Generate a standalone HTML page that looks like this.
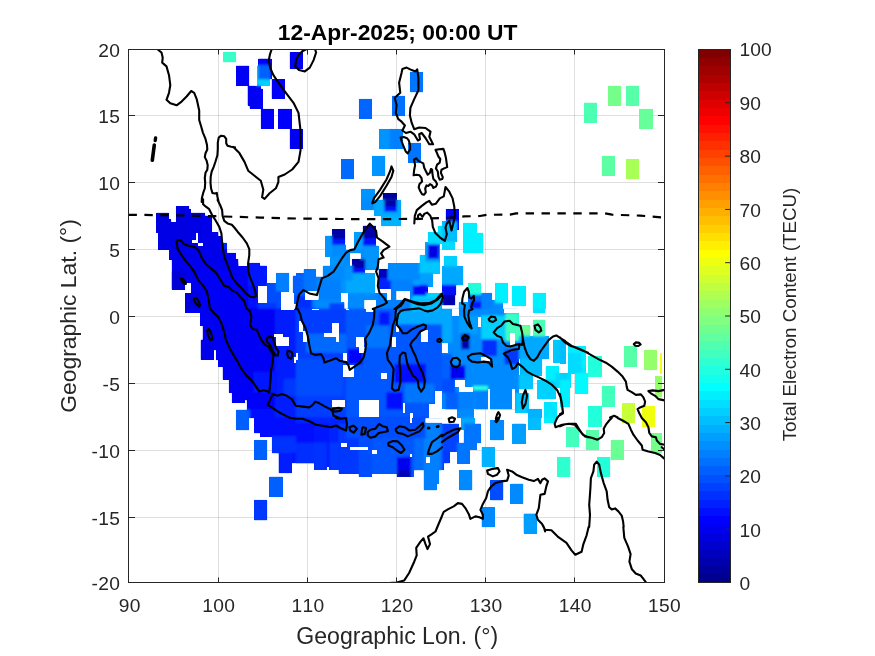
<!DOCTYPE html>
<html lang="en"><head><meta charset="utf-8"><title>12-Apr-2025; 00:00 UT</title>
<style>html,body{margin:0;padding:0;background:#fff;overflow:hidden}body{width:875px;height:656px;position:relative}</style></head>
<body>
<svg width="875" height="656" viewBox="0 0 875 656" style="position:absolute;left:0;top:0">
<defs><clipPath id="ax"><rect x="128.5" y="49.5" width="536" height="533"/></clipPath>
<filter id="bl" x="-5%" y="-5%" width="110%" height="110%"><feGaussianBlur stdDeviation="1.1"/></filter>
<clipPath id="dc"><rect x="223.1" y="52.2" width="13.1" height="10.2"/><rect x="236.2" y="65.6" width="13.1" height="20"/><rect x="258.3" y="58.5" width="13.3" height="20.7"/><rect x="257" y="65.6" width="12.6" height="20"/><rect x="258.3" y="65.6" width="11.3" height="13.7"/><rect x="247.5" y="85.7" width="13.3" height="20"/><rect x="249.5" y="88.7" width="13.1" height="20"/><rect x="271.6" y="79.1" width="13.1" height="19.7"/><rect x="260.8" y="108.8" width="13.1" height="20"/><rect x="278.4" y="108.8" width="13.3" height="20"/><rect x="289.7" y="128.9" width="13.1" height="20"/><rect x="289.7" y="52.2" width="13.1" height="16.9"/><rect x="409.9" y="71.9" width="13.1" height="20.5"/><rect x="358.9" y="98.8" width="13.1" height="20.2"/><rect x="392" y="95.7" width="13.1" height="20.5"/><rect x="379" y="128.9" width="13.1" height="20"/><rect x="389.8" y="128.9" width="13.1" height="20"/><rect x="407.9" y="142.8" width="13.1" height="20"/><rect x="372.2" y="155.8" width="13.1" height="20.2"/><rect x="341.3" y="159.1" width="12.6" height="20.2"/><rect x="361.4" y="188.8" width="13.1" height="21.5"/><rect x="382.7" y="193" width="13.8" height="9.4"/><rect x="382.7" y="201.8" width="13.8" height="9.4"/><rect x="373.9" y="201.8" width="10.1" height="9.4"/><rect x="396.6" y="202.6" width="4.5" height="8.6"/><rect x="608" y="85.7" width="13.3" height="20.2"/><rect x="626.1" y="85.7" width="13.3" height="20.2"/><rect x="583.9" y="102.5" width="13.1" height="20"/><rect x="639.4" y="108.8" width="13.3" height="20.2"/><rect x="601.7" y="155.8" width="13.1" height="20.2"/><rect x="626.1" y="159.1" width="13.3" height="20.2"/><rect x="156.3" y="212.7" width="12.8" height="20.1"/><rect x="158.3" y="219.4" width="13" height="30.1"/><rect x="158.3" y="222.2" width="17.5" height="27.3"/><rect x="175.9" y="206" width="13.3" height="44.3"/><rect x="189.2" y="208.9" width="1.7" height="41.5"/><rect x="190.9" y="212.7" width="14.2" height="37.6"/><rect x="205.1" y="215.6" width="7" height="34.8"/><rect x="212.1" y="232.2" width="6.3" height="34.8"/><rect x="218.4" y="236.4" width="3.7" height="30.6"/><rect x="222.1" y="242.7" width="5" height="24.3"/><rect x="227.1" y="252.8" width="8.8" height="22.6"/><rect x="235.9" y="262.8" width="2.5" height="21"/><rect x="238.4" y="266.1" width="9.2" height="43.1"/><rect x="247.6" y="262.8" width="12.5" height="24"/><rect x="260.1" y="265.6" width="6.7" height="21.1"/><rect x="169.2" y="248.9" width="57.9" height="10.6"/><rect x="171.7" y="258.9" width="66.7" height="30.6"/><rect x="200.1" y="269.8" width="38.4" height="19.8"/><rect x="185.4" y="289" width="73.1" height="20.3"/><rect x="247.6" y="286.1" width="10.5" height="23.1"/><rect x="266.8" y="283.1" width="9.5" height="26.1"/><rect x="258.1" y="302.8" width="23.7" height="6.4"/><rect x="276.3" y="272.8" width="13" height="19"/><rect x="276.3" y="291.1" width="4.7" height="18.1"/><rect x="292.7" y="275.6" width="3.3" height="28.1"/><rect x="171.7" y="271.4" width="13.7" height="18.1"/><rect x="185.4" y="292.3" width="14.7" height="17"/><rect x="185" y="308.7" width="111" height="4.3"/><rect x="200.1" y="312.4" width="95.9" height="13.6"/><rect x="202.6" y="325.4" width="93.4" height="14.8"/><rect x="200.6" y="339.6" width="13.2" height="20.3"/><rect x="213.7" y="339.6" width="82.3" height="10.6"/><rect x="215.9" y="349.6" width="80.1" height="10.6"/><rect x="218.1" y="359.6" width="77.9" height="7.3"/><rect x="222.6" y="366.3" width="73.4" height="13.4"/><rect x="228.8" y="379.1" width="67.2" height="13.6"/><rect x="231.8" y="392.1" width="64.2" height="8.1"/><rect x="231.8" y="399.6" width="13.3" height="3.4"/><rect x="246.8" y="399.6" width="49.2" height="10.3"/><rect x="249.8" y="409.3" width="46.2" height="8.9"/><rect x="235.9" y="409.6" width="13.8" height="8.6"/><rect x="275.1" y="308.7" width="20.9" height="109.6"/><rect x="253.5" y="372.1" width="23.4" height="20.6"/><rect x="283.5" y="378.8" width="12.5" height="17.3"/><rect x="361.1" y="199.7" width="13.3" height="9.8"/><rect x="374.4" y="199.7" width="26.7" height="16.5"/><rect x="381.1" y="215.6" width="20" height="10.6"/><rect x="384.4" y="199.7" width="12.5" height="7.3"/><rect x="384.4" y="206.4" width="12.5" height="5.3"/><rect x="331.9" y="229.4" width="13.3" height="10.1"/><rect x="331.9" y="238.9" width="13.3" height="6.4"/><rect x="325.2" y="235.6" width="6.7" height="21.5"/><rect x="331.9" y="244.8" width="14.2" height="12.3"/><rect x="330.2" y="256.4" width="14.2" height="9.8"/><rect x="362.7" y="225.6" width="13.3" height="13.1"/><rect x="362.7" y="238.1" width="13.3" height="8.1"/><rect x="354.1" y="232.2" width="8.7" height="19.8"/><rect x="362.7" y="245.6" width="15.9" height="24"/><rect x="351.9" y="258.9" width="13.3" height="9.8"/><rect x="351.9" y="268.1" width="13.3" height="5.6"/><rect x="344.4" y="249.8" width="18.4" height="3.6"/><rect x="344.4" y="252.8" width="5.3" height="13.4"/><rect x="360.7" y="252.8" width="2" height="6.8"/><rect x="296" y="273.1" width="7.5" height="17.3"/><rect x="303.5" y="269.4" width="12.5" height="21.8"/><rect x="322.7" y="265.6" width="23.4" height="14.8"/><rect x="316" y="276.5" width="6.7" height="14.8"/><rect x="318.5" y="279.8" width="22.5" height="20.6"/><rect x="296" y="289.8" width="9.2" height="6.4"/><rect x="296" y="295.6" width="15.9" height="13.6"/><rect x="311.9" y="299.5" width="6.7" height="9.8"/><rect x="314.4" y="299.8" width="30" height="9.4"/><rect x="329.4" y="303.2" width="15" height="6.1"/><rect x="346.1" y="273.1" width="28.4" height="20.6"/><rect x="347.7" y="293.1" width="16.7" height="16.1"/><rect x="364.4" y="293.1" width="11.7" height="7.3"/><rect x="376.1" y="293.1" width="10.8" height="16.1"/><rect x="378.6" y="268.9" width="12.5" height="9.8"/><rect x="378.6" y="278.1" width="12.5" height="10.6"/><rect x="387.8" y="263.1" width="31.7" height="17.3"/><rect x="391.1" y="279.8" width="21.7" height="11.4"/><rect x="419.5" y="254.8" width="20" height="19"/><rect x="425.3" y="242.2" width="14.2" height="19.8"/><rect x="427.8" y="244.8" width="10.8" height="13.9"/><rect x="427.8" y="232.2" width="14.2" height="11.4"/><rect x="437.8" y="225.6" width="4.2" height="8.1"/><rect x="419.5" y="273.1" width="13.3" height="13.9"/><rect x="412.8" y="284.8" width="15" height="11.4"/><rect x="411.1" y="295.6" width="15" height="8.1"/><rect x="386.9" y="299.8" width="24.2" height="9.4"/><rect x="391.1" y="290.6" width="5" height="18.6"/><rect x="410.3" y="290.6" width="2.5" height="9.8"/><rect x="426.1" y="293.1" width="15.9" height="7.3"/><rect x="411.1" y="303.2" width="30.9" height="6.1"/><rect x="344.4" y="265.6" width="8.3" height="14.8"/><rect x="341.1" y="279.8" width="5" height="13.9"/><rect x="412.8" y="279.8" width="6.7" height="5.9"/><rect x="426.1" y="299.8" width="8.3" height="4.3"/><rect x="445.7" y="208.9" width="13" height="20.6"/><rect x="442" y="221.4" width="15" height="20.6"/><rect x="442" y="241.4" width="12.5" height="8.1"/><rect x="463.4" y="222.7" width="13.3" height="30.1"/><rect x="476.7" y="232.7" width="6.7" height="20.1"/><rect x="443.7" y="256.1" width="13" height="10.9"/><rect x="442" y="266.4" width="21.4" height="19"/><rect x="442" y="284.8" width="14.2" height="10.6"/><rect x="442" y="294.8" width="13.3" height="10.6"/><rect x="467.9" y="282.8" width="13.3" height="12.6"/><rect x="481.2" y="292.8" width="10.8" height="16.5"/><rect x="467.9" y="294.8" width="13.3" height="14.4"/><rect x="470.4" y="301.5" width="10.8" height="7.8"/><rect x="458.7" y="302.3" width="10" height="6.9"/><rect x="492.1" y="299.8" width="10.8" height="9.4"/><rect x="495.1" y="282.8" width="12.8" height="20.1"/><rect x="512.4" y="286.1" width="13.3" height="20.1"/><rect x="532.6" y="292.8" width="13.3" height="16.5"/><rect x="296" y="308.7" width="146" height="109.6"/><rect x="296" y="308.7" width="50.1" height="109.6"/><rect x="306" y="333.7" width="40" height="19"/><rect x="347.7" y="348.7" width="15" height="15.6"/><rect x="379.4" y="312" width="10" height="13.9"/><rect x="394.4" y="363.8" width="31.7" height="19"/><rect x="396.1" y="310.4" width="45.9" height="13.9"/><rect x="386.1" y="392.1" width="16.7" height="17.3"/><rect x="366.1" y="325.4" width="23.4" height="22.3"/><rect x="404.5" y="383.8" width="30" height="19"/><rect x="296" y="358.8" width="46.7" height="37.3"/><rect x="442" y="308.7" width="76.8" height="100.7"/><rect x="442" y="308.7" width="10" height="34"/><rect x="442" y="353.8" width="10" height="25.6"/><rect x="458.7" y="315.4" width="19.2" height="19"/><rect x="481.2" y="315.4" width="24.2" height="24"/><rect x="505.4" y="312.9" width="13.3" height="13.1"/><rect x="505.4" y="325.4" width="25" height="15.6"/><rect x="522.1" y="326.2" width="8.3" height="8.1"/><rect x="532.9" y="319.5" width="12.5" height="17.3"/><rect x="532.9" y="308.7" width="12.5" height="4.3"/><rect x="518.8" y="336.2" width="30" height="23.1"/><rect x="520.4" y="358.8" width="21.7" height="17.3"/><rect x="518.8" y="375.4" width="14.2" height="13.9"/><rect x="553" y="339.6" width="12.5" height="23.1"/><rect x="568" y="346.2" width="17.5" height="26.5"/><rect x="545.5" y="366.3" width="13.3" height="14.8"/><rect x="555.5" y="372.9" width="15" height="14.8"/><rect x="575.5" y="372.9" width="12.5" height="19.8"/><rect x="537.1" y="380.4" width="18.4" height="19"/><rect x="543.8" y="402.1" width="13.3" height="16.1"/><rect x="515.1" y="393" width="13.7" height="19.8"/><rect x="527.9" y="408.8" width="14.2" height="9.4"/><rect x="445.3" y="392.1" width="13.3" height="17.3"/><rect x="458.7" y="392.1" width="15" height="22.3"/><rect x="475.4" y="389.6" width="12.5" height="19.8"/><rect x="490.4" y="375.4" width="21.7" height="34"/><rect x="457" y="408.8" width="16.7" height="9.4"/><rect x="442" y="378.8" width="13.3" height="13.9"/><rect x="461.2" y="333.7" width="8.3" height="15.6"/><rect x="482" y="339.6" width="15" height="16.5"/><rect x="450.3" y="365.4" width="15" height="13.9"/><rect x="504.6" y="349.6" width="14.2" height="14.8"/><rect x="472.9" y="385.8" width="15" height="4.4"/><rect x="254" y="417.7" width="42" height="15.6"/><rect x="260.1" y="432.7" width="35.9" height="3.9"/><rect x="271.8" y="436.1" width="24.2" height="17.3"/><rect x="278.5" y="452.7" width="13.3" height="20.6"/><rect x="291.8" y="452.7" width="4.2" height="10.6"/><rect x="235.9" y="417.7" width="13.3" height="12.6"/><rect x="254" y="439.9" width="13.3" height="20.1"/><rect x="269.3" y="476.6" width="13.7" height="20.5"/><rect x="254" y="499.8" width="13.3" height="20.6"/><rect x="296" y="417.7" width="18" height="45.7"/><rect x="314" y="417.7" width="12.8" height="52.3"/><rect x="326.9" y="417.7" width="2.5" height="49.3"/><rect x="329.4" y="417.7" width="9.2" height="52.3"/><rect x="338.5" y="417.7" width="20" height="56"/><rect x="358.6" y="417.7" width="13.3" height="59.3"/><rect x="371.9" y="417.7" width="24.7" height="56"/><rect x="396.6" y="417.7" width="17.5" height="59"/><rect x="414.1" y="417.7" width="9.5" height="52.7"/><rect x="423.6" y="422.7" width="13.3" height="67.7"/><rect x="437" y="422.7" width="2.2" height="61"/><rect x="439.2" y="422.7" width="2.8" height="47.7"/><rect x="396.9" y="456.9" width="14.2" height="13.9"/><rect x="397.4" y="470.3" width="13.7" height="6.4"/><rect x="296" y="417.7" width="129.3" height="5.6"/><rect x="346.1" y="417.7" width="79.3" height="20.6"/><rect x="296" y="442.7" width="18" height="20.6"/><rect x="314" y="442.7" width="12.8" height="27.3"/><rect x="329.4" y="442.7" width="9.2" height="27.3"/><rect x="442" y="423.5" width="16.7" height="28.1"/><rect x="442" y="451.1" width="7.5" height="12.3"/><rect x="442" y="462.8" width="1.7" height="7.3"/><rect x="461.2" y="417.7" width="13.3" height="12.3"/><rect x="463.7" y="423.5" width="17.5" height="19.8"/><rect x="457" y="442.7" width="20" height="7.3"/><rect x="457" y="449.4" width="13" height="14.3"/><rect x="490.4" y="420.2" width="13.3" height="20.1"/><rect x="512.4" y="423.5" width="13.3" height="20.1"/><rect x="528.3" y="417.7" width="13" height="12.3"/><rect x="543.8" y="417.7" width="11.7" height="5.6"/><rect x="566" y="426.9" width="13.2" height="20.1"/><rect x="585.8" y="430.2" width="2.2" height="19.8"/><rect x="557.1" y="456.9" width="13.3" height="20.1"/><rect x="481.5" y="446.9" width="13.3" height="20.1"/><rect x="459.2" y="469.9" width="13.2" height="20.5"/><rect x="490.4" y="480.3" width="13" height="20.1"/><rect x="510.4" y="483.6" width="13" height="20.1"/><rect x="481.5" y="507" width="13.3" height="20.3"/><rect x="523.8" y="513.6" width="13.3" height="13.6"/><rect x="560" y="339.6" width="5.8" height="24"/><rect x="568.3" y="346.2" width="17.5" height="20.6"/><rect x="568.3" y="352.9" width="13" height="20.6"/><rect x="588.4" y="356.3" width="13.3" height="20.6"/><rect x="560" y="372.9" width="7.5" height="9.8"/><rect x="560" y="379.6" width="10" height="27.3"/><rect x="575.4" y="372.9" width="13" height="20.6"/><rect x="601.7" y="386.3" width="13.3" height="20.6"/><rect x="588.4" y="406.3" width="13.3" height="11.9"/><rect x="624.2" y="346.2" width="13" height="20.6"/><rect x="643.9" y="349.6" width="13.2" height="20.6"/><rect x="659.6" y="352.9" width="2.5" height="20.6"/><rect x="655.1" y="376.3" width="7" height="20.6"/><rect x="622.1" y="403" width="13" height="15.3"/><rect x="641.8" y="406.3" width="13.3" height="11.9"/><rect x="588.4" y="417.7" width="13.3" height="9.3"/><rect x="622.1" y="417.7" width="13" height="5.6"/><rect x="641.8" y="417.7" width="13.3" height="8.9"/><rect x="566.2" y="426.9" width="13" height="20.1"/><rect x="586.2" y="429.7" width="13" height="20.6"/><rect x="610.6" y="439.9" width="13.3" height="20.1"/><rect x="650.9" y="433.2" width="11.2" height="20.1"/><rect x="560" y="456.9" width="10.3" height="20.1"/><rect x="597" y="456.9" width="13.3" height="20.1"/><rect x="523.5" y="513.6" width="13.3" height="20.2"/><rect x="410.7" y="298.4" width="30" height="12.8"/></clipPath>
</defs>
<rect width="100%" height="100%" fill="#fff"/>
<path d="M218.5 49.5 V582.5 M307.5 49.5 V582.5 M396.5 49.5 V582.5 M485.5 49.5 V582.5 M574.5 49.5 V582.5 M128.5 517.5 H664.5 M128.5 450.5 H664.5 M128.5 383.5 H664.5 M128.5 316.5 H664.5 M128.5 249.5 H664.5 M128.5 182.5 H664.5 M128.5 115.5 H664.5" stroke="#262626" stroke-opacity="0.15" stroke-width="1" fill="none"/>
<g clip-path="url(#ax)">
<g shape-rendering="crispEdges"><rect x="223.1" y="52.2" width="13.1" height="10.2" fill="#38ffc7"/><rect x="236.2" y="65.6" width="13.1" height="20" fill="#0000f5"/><rect x="258.3" y="58.5" width="13.3" height="20.7" fill="#0000ff"/><rect x="257" y="65.6" width="12.6" height="20" fill="#00d1ff"/><rect x="258.3" y="65.6" width="11.3" height="13.7" fill="#0061ff"/><rect x="247.5" y="85.7" width="13.3" height="20" fill="#0000f5"/><rect x="249.5" y="88.7" width="13.1" height="20" fill="#0000f5"/><rect x="271.6" y="79.1" width="13.1" height="19.7" fill="#0000fa"/><rect x="260.8" y="108.8" width="13.1" height="20" fill="#0000fa"/><rect x="278.4" y="108.8" width="13.3" height="20" fill="#0000fa"/><rect x="289.7" y="128.9" width="13.1" height="20" fill="#0000f5"/><rect x="289.7" y="52.2" width="13.1" height="16.9" fill="#0000f5"/><rect x="409.9" y="71.9" width="13.1" height="20.5" fill="#0075ff"/><rect x="358.9" y="98.8" width="13.1" height="20.2" fill="#0066ff"/><rect x="392" y="95.7" width="13.1" height="20.5" fill="#0070ff"/><rect x="379" y="128.9" width="13.1" height="20" fill="#0094ff"/><rect x="389.8" y="128.9" width="13.1" height="20" fill="#0080ff"/><rect x="407.9" y="142.8" width="13.1" height="20" fill="#0075ff"/><rect x="372.2" y="155.8" width="13.1" height="20.2" fill="#0094ff"/><rect x="341.3" y="159.1" width="12.6" height="20.2" fill="#006bff"/><rect x="361.4" y="188.8" width="13.1" height="21.5" fill="#0094ff"/><rect x="382.7" y="193" width="13.8" height="9.4" fill="#00009e"/><rect x="382.7" y="201.8" width="13.8" height="9.4" fill="#0000fa"/><rect x="373.9" y="201.8" width="10.1" height="9.4" fill="#00d1ff"/><rect x="396.6" y="202.6" width="4.5" height="8.6" fill="#0094ff"/><rect x="608" y="85.7" width="13.3" height="20.2" fill="#75ff8a"/><rect x="626.1" y="85.7" width="13.3" height="20.2" fill="#57ffa8"/><rect x="583.9" y="102.5" width="13.1" height="20" fill="#4dffb2"/><rect x="639.4" y="108.8" width="13.3" height="20.2" fill="#66ff99"/><rect x="601.7" y="155.8" width="13.1" height="20.2" fill="#5cffa3"/><rect x="626.1" y="159.1" width="13.3" height="20.2" fill="#a8ff57"/><rect x="156.3" y="212.7" width="12.8" height="20.1" fill="#0000e0"/><rect x="158.3" y="219.4" width="13" height="30.1" fill="#0000e3"/><rect x="158.3" y="222.2" width="17.5" height="27.3" fill="#0000e6"/><rect x="175.9" y="206" width="13.3" height="44.3" fill="#0000e3"/><rect x="189.2" y="208.9" width="1.7" height="41.5" fill="#0000e6"/><rect x="190.9" y="212.7" width="14.2" height="37.6" fill="#0000e6"/><rect x="205.1" y="215.6" width="7" height="34.8" fill="#0000e9"/><rect x="212.1" y="232.2" width="6.3" height="34.8" fill="#0000eb"/><rect x="218.4" y="236.4" width="3.7" height="30.6" fill="#0000eb"/><rect x="222.1" y="242.7" width="5" height="24.3" fill="#0024ff"/><rect x="227.1" y="252.8" width="8.8" height="22.6" fill="#0000f5"/><rect x="235.9" y="262.8" width="2.5" height="21" fill="#0000f5"/><rect x="238.4" y="266.1" width="9.2" height="43.1" fill="#0000f5"/><rect x="247.6" y="262.8" width="12.5" height="24" fill="#0019ff"/><rect x="260.1" y="265.6" width="6.7" height="21.1" fill="#0019ff"/><rect x="169.2" y="248.9" width="57.9" height="10.6" fill="#0000eb"/><rect x="171.7" y="258.9" width="66.7" height="30.6" fill="#0000ed"/><rect x="200.1" y="269.8" width="38.4" height="19.8" fill="#0000f4"/><rect x="185.4" y="289" width="73.1" height="20.3" fill="#0000f4"/><rect x="247.6" y="286.1" width="10.5" height="23.1" fill="#000aff"/><rect x="266.8" y="283.1" width="9.5" height="26.1" fill="#004dff"/><rect x="258.1" y="302.8" width="23.7" height="6.4" fill="#0038ff"/><rect x="276.3" y="272.8" width="13" height="19" fill="#0080ff"/><rect x="276.3" y="291.1" width="4.7" height="18.1" fill="#004dff"/><rect x="292.7" y="275.6" width="3.3" height="28.1" fill="#0061ff"/><rect x="171.7" y="271.4" width="13.7" height="18.1" fill="#0000d6"/><rect x="185.4" y="292.3" width="14.7" height="17" fill="#0000db"/><rect x="185" y="308.7" width="111" height="4.3" fill="#0000f5"/><rect x="200.1" y="312.4" width="95.9" height="13.6" fill="#0000f5"/><rect x="202.6" y="325.4" width="93.4" height="14.8" fill="#0000f5"/><rect x="200.6" y="339.6" width="13.2" height="20.3" fill="#0000eb"/><rect x="213.7" y="339.6" width="82.3" height="10.6" fill="#0000f5"/><rect x="215.9" y="349.6" width="80.1" height="10.6" fill="#0000f5"/><rect x="218.1" y="359.6" width="77.9" height="7.3" fill="#0000f5"/><rect x="222.6" y="366.3" width="73.4" height="13.4" fill="#0000f5"/><rect x="228.8" y="379.1" width="67.2" height="13.6" fill="#0000f8"/><rect x="231.8" y="392.1" width="64.2" height="8.1" fill="#0000f8"/><rect x="231.8" y="399.6" width="13.3" height="3.4" fill="#0000f8"/><rect x="246.8" y="399.6" width="49.2" height="10.3" fill="#0003ff"/><rect x="249.8" y="409.3" width="46.2" height="8.9" fill="#000aff"/><rect x="235.9" y="409.6" width="13.8" height="8.6" fill="#0061ff"/><rect x="275.1" y="308.7" width="20.9" height="109.6" fill="#001fff"/><rect x="253.5" y="372.1" width="23.4" height="20.6" fill="#0014ff"/><rect x="283.5" y="378.8" width="12.5" height="17.3" fill="#0038ff"/><rect x="361.1" y="199.7" width="13.3" height="9.8" fill="#008aff"/><rect x="374.4" y="199.7" width="26.7" height="16.5" fill="#00a8ff"/><rect x="381.1" y="215.6" width="20" height="10.6" fill="#00b2ff"/><rect x="384.4" y="199.7" width="12.5" height="7.3" fill="#0000a8"/><rect x="384.4" y="206.4" width="12.5" height="5.3" fill="#000fff"/><rect x="331.9" y="229.4" width="13.3" height="10.1" fill="#0000a8"/><rect x="331.9" y="238.9" width="13.3" height="6.4" fill="#0019ff"/><rect x="325.2" y="235.6" width="6.7" height="21.5" fill="#0094ff"/><rect x="331.9" y="244.8" width="14.2" height="12.3" fill="#008aff"/><rect x="330.2" y="256.4" width="14.2" height="9.8" fill="#0094ff"/><rect x="362.7" y="225.6" width="13.3" height="13.1" fill="#0000a8"/><rect x="362.7" y="238.1" width="13.3" height="8.1" fill="#000fff"/><rect x="354.1" y="232.2" width="8.7" height="19.8" fill="#009eff"/><rect x="362.7" y="245.6" width="15.9" height="24" fill="#0094ff"/><rect x="351.9" y="258.9" width="13.3" height="9.8" fill="#0000a8"/><rect x="351.9" y="268.1" width="13.3" height="5.6" fill="#000fff"/><rect x="344.4" y="249.8" width="18.4" height="3.6" fill="#008aff"/><rect x="344.4" y="252.8" width="5.3" height="13.4" fill="#008aff"/><rect x="360.7" y="252.8" width="2" height="6.8" fill="#008aff"/><rect x="296" y="273.1" width="7.5" height="17.3" fill="#0061ff"/><rect x="303.5" y="269.4" width="12.5" height="21.8" fill="#0075ff"/><rect x="322.7" y="265.6" width="23.4" height="14.8" fill="#008aff"/><rect x="316" y="276.5" width="6.7" height="14.8" fill="#0080ff"/><rect x="318.5" y="279.8" width="22.5" height="20.6" fill="#0080ff"/><rect x="296" y="289.8" width="9.2" height="6.4" fill="#0061ff"/><rect x="296" y="295.6" width="15.9" height="13.6" fill="#002eff"/><rect x="311.9" y="299.5" width="6.7" height="9.8" fill="#0075ff"/><rect x="314.4" y="299.8" width="30" height="9.4" fill="#008aff"/><rect x="329.4" y="303.2" width="15" height="6.1" fill="#0042ff"/><rect x="346.1" y="273.1" width="28.4" height="20.6" fill="#00a8ff"/><rect x="347.7" y="293.1" width="16.7" height="16.1" fill="#008aff"/><rect x="364.4" y="293.1" width="11.7" height="7.3" fill="#008aff"/><rect x="376.1" y="293.1" width="10.8" height="16.1" fill="#0080ff"/><rect x="378.6" y="268.9" width="12.5" height="9.8" fill="#0000bd"/><rect x="378.6" y="278.1" width="12.5" height="10.6" fill="#0024ff"/><rect x="387.8" y="263.1" width="31.7" height="17.3" fill="#008aff"/><rect x="391.1" y="279.8" width="21.7" height="11.4" fill="#0080ff"/><rect x="419.5" y="254.8" width="20" height="19" fill="#00c7ff"/><rect x="425.3" y="242.2" width="14.2" height="19.8" fill="#009eff"/><rect x="427.8" y="244.8" width="10.8" height="13.9" fill="#0000e6"/><rect x="427.8" y="232.2" width="14.2" height="11.4" fill="#00dbff"/><rect x="437.8" y="225.6" width="4.2" height="8.1" fill="#00e5ff"/><rect x="419.5" y="273.1" width="13.3" height="13.9" fill="#009eff"/><rect x="412.8" y="284.8" width="15" height="11.4" fill="#0000fa"/><rect x="411.1" y="295.6" width="15" height="8.1" fill="#00d1ff"/><rect x="386.9" y="299.8" width="24.2" height="9.4" fill="#0080ff"/><rect x="391.1" y="290.6" width="5" height="18.6" fill="#0080ff"/><rect x="410.3" y="290.6" width="2.5" height="9.8" fill="#0080ff"/><rect x="426.1" y="293.1" width="15.9" height="7.3" fill="#00d1ff"/><rect x="411.1" y="303.2" width="30.9" height="6.1" fill="#00b2ff"/><rect x="344.4" y="265.6" width="8.3" height="14.8" fill="#0094ff"/><rect x="341.1" y="279.8" width="5" height="13.9" fill="#0094ff"/><rect x="412.8" y="279.8" width="6.7" height="5.9" fill="#009eff"/><rect x="426.1" y="299.8" width="8.3" height="4.3" fill="#00d1ff"/><rect x="445.7" y="208.9" width="13" height="20.6" fill="#0000fa"/><rect x="442" y="221.4" width="15" height="20.6" fill="#00bdff"/><rect x="442" y="241.4" width="12.5" height="8.1" fill="#00dbff"/><rect x="463.4" y="222.7" width="13.3" height="30.1" fill="#00f0ff"/><rect x="476.7" y="232.7" width="6.7" height="20.1" fill="#00f0ff"/><rect x="443.7" y="256.1" width="13" height="10.9" fill="#00d1ff"/><rect x="442" y="266.4" width="21.4" height="19" fill="#00a8ff"/><rect x="442" y="284.8" width="14.2" height="10.6" fill="#000fff"/><rect x="442" y="294.8" width="13.3" height="10.6" fill="#0000b2"/><rect x="467.9" y="282.8" width="13.3" height="12.6" fill="#24ffdb"/><rect x="481.2" y="292.8" width="10.8" height="16.5" fill="#0080ff"/><rect x="467.9" y="294.8" width="13.3" height="14.4" fill="#006bff"/><rect x="470.4" y="301.5" width="10.8" height="7.8" fill="#0019ff"/><rect x="458.7" y="302.3" width="10" height="6.9" fill="#009eff"/><rect x="492.1" y="299.8" width="10.8" height="9.4" fill="#008aff"/><rect x="495.1" y="282.8" width="12.8" height="20.1" fill="#00f0ff"/><rect x="512.4" y="286.1" width="13.3" height="20.1" fill="#00f0ff"/><rect x="532.6" y="292.8" width="13.3" height="16.5" fill="#00f0ff"/><rect x="296" y="308.7" width="146" height="109.6" fill="#0057ff"/><rect x="296" y="308.7" width="50.1" height="109.6" fill="#003dff"/><rect x="306" y="333.7" width="40" height="19" fill="#006bff"/><rect x="347.7" y="348.7" width="15" height="15.6" fill="#0005ff"/><rect x="379.4" y="312" width="10" height="13.9" fill="#0019ff"/><rect x="394.4" y="363.8" width="31.7" height="19" fill="#000fff"/><rect x="396.1" y="310.4" width="45.9" height="13.9" fill="#00a8ff"/><rect x="386.1" y="392.1" width="16.7" height="17.3" fill="#000fff"/><rect x="366.1" y="325.4" width="23.4" height="22.3" fill="#0075ff"/><rect x="404.5" y="383.8" width="30" height="19" fill="#0075ff"/><rect x="296" y="358.8" width="46.7" height="37.3" fill="#004dff"/><rect x="442" y="308.7" width="76.8" height="100.7" fill="#008aff"/><rect x="442" y="308.7" width="10" height="34" fill="#00a8ff"/><rect x="442" y="353.8" width="10" height="25.6" fill="#0061ff"/><rect x="458.7" y="315.4" width="19.2" height="19" fill="#009eff"/><rect x="481.2" y="315.4" width="24.2" height="24" fill="#00d1ff"/><rect x="505.4" y="312.9" width="13.3" height="13.1" fill="#38ffc7"/><rect x="505.4" y="325.4" width="25" height="15.6" fill="#42ffbd"/><rect x="522.1" y="326.2" width="8.3" height="8.1" fill="#70ff8f"/><rect x="532.9" y="319.5" width="12.5" height="17.3" fill="#4dffb2"/><rect x="532.9" y="308.7" width="12.5" height="4.3" fill="#00e5ff"/><rect x="518.8" y="336.2" width="30" height="23.1" fill="#00a8ff"/><rect x="520.4" y="358.8" width="21.7" height="17.3" fill="#00bdff"/><rect x="518.8" y="375.4" width="14.2" height="13.9" fill="#00c7ff"/><rect x="553" y="339.6" width="12.5" height="23.1" fill="#00c7ff"/><rect x="568" y="346.2" width="17.5" height="26.5" fill="#00e5ff"/><rect x="545.5" y="366.3" width="13.3" height="14.8" fill="#00f0ff"/><rect x="555.5" y="372.9" width="15" height="14.8" fill="#00dbff"/><rect x="575.5" y="372.9" width="12.5" height="19.8" fill="#00faff"/><rect x="537.1" y="380.4" width="18.4" height="19" fill="#00d1ff"/><rect x="543.8" y="402.1" width="13.3" height="16.1" fill="#00e5ff"/><rect x="515.1" y="393" width="13.7" height="19.8" fill="#00c7ff"/><rect x="527.9" y="408.8" width="14.2" height="9.4" fill="#00b2ff"/><rect x="445.3" y="392.1" width="13.3" height="17.3" fill="#0061ff"/><rect x="458.7" y="392.1" width="15" height="22.3" fill="#0080ff"/><rect x="475.4" y="389.6" width="12.5" height="19.8" fill="#0080ff"/><rect x="490.4" y="375.4" width="21.7" height="34" fill="#008aff"/><rect x="457" y="408.8" width="16.7" height="9.4" fill="#008aff"/><rect x="442" y="378.8" width="13.3" height="13.9" fill="#004dff"/><rect x="461.2" y="333.7" width="8.3" height="15.6" fill="#0000b2"/><rect x="482" y="339.6" width="15" height="16.5" fill="#002eff"/><rect x="450.3" y="365.4" width="15" height="13.9" fill="#0000f0"/><rect x="504.6" y="349.6" width="14.2" height="14.8" fill="#0038ff"/><rect x="472.9" y="385.8" width="15" height="4.4" fill="#24ffdb"/><rect x="254" y="417.7" width="42" height="15.6" fill="#000aff"/><rect x="260.1" y="432.7" width="35.9" height="3.9" fill="#000aff"/><rect x="271.8" y="436.1" width="24.2" height="17.3" fill="#0033ff"/><rect x="278.5" y="452.7" width="13.3" height="20.6" fill="#001fff"/><rect x="291.8" y="452.7" width="4.2" height="10.6" fill="#0019ff"/><rect x="235.9" y="417.7" width="13.3" height="12.6" fill="#0061ff"/><rect x="254" y="439.9" width="13.3" height="20.1" fill="#0061ff"/><rect x="269.3" y="476.6" width="13.7" height="20.5" fill="#0061ff"/><rect x="254" y="499.8" width="13.3" height="20.6" fill="#0038ff"/><rect x="296" y="417.7" width="18" height="45.7" fill="#000fff"/><rect x="314" y="417.7" width="12.8" height="52.3" fill="#0019ff"/><rect x="326.9" y="417.7" width="2.5" height="49.3" fill="#0019ff"/><rect x="329.4" y="417.7" width="9.2" height="52.3" fill="#0024ff"/><rect x="338.5" y="417.7" width="20" height="56" fill="#0038ff"/><rect x="358.6" y="417.7" width="13.3" height="59.3" fill="#004dff"/><rect x="371.9" y="417.7" width="24.7" height="56" fill="#0057ff"/><rect x="396.6" y="417.7" width="17.5" height="59" fill="#0057ff"/><rect x="414.1" y="417.7" width="9.5" height="52.7" fill="#006bff"/><rect x="423.6" y="422.7" width="13.3" height="67.7" fill="#0080ff"/><rect x="437" y="422.7" width="2.2" height="61" fill="#0080ff"/><rect x="439.2" y="422.7" width="2.8" height="47.7" fill="#0075ff"/><rect x="396.9" y="456.9" width="14.2" height="13.9" fill="#0000f0"/><rect x="397.4" y="470.3" width="13.7" height="6.4" fill="#0000b2"/><rect x="296" y="417.7" width="129.3" height="5.6" fill="#0024ff"/><rect x="346.1" y="417.7" width="79.3" height="20.6" fill="#004dff"/><rect x="296" y="442.7" width="18" height="20.6" fill="#002eff"/><rect x="314" y="442.7" width="12.8" height="27.3" fill="#0033ff"/><rect x="329.4" y="442.7" width="9.2" height="27.3" fill="#0038ff"/><rect x="442" y="423.5" width="16.7" height="28.1" fill="#0042ff"/><rect x="442" y="451.1" width="7.5" height="12.3" fill="#0038ff"/><rect x="442" y="462.8" width="1.7" height="7.3" fill="#0038ff"/><rect x="461.2" y="417.7" width="13.3" height="12.3" fill="#00a8ff"/><rect x="463.7" y="423.5" width="17.5" height="19.8" fill="#0075ff"/><rect x="457" y="442.7" width="20" height="7.3" fill="#0075ff"/><rect x="457" y="449.4" width="13" height="14.3" fill="#0075ff"/><rect x="490.4" y="420.2" width="13.3" height="20.1" fill="#008aff"/><rect x="512.4" y="423.5" width="13.3" height="20.1" fill="#009eff"/><rect x="528.3" y="417.7" width="13" height="12.3" fill="#00bdff"/><rect x="543.8" y="417.7" width="11.7" height="5.6" fill="#00f0ff"/><rect x="566" y="426.9" width="13.2" height="20.1" fill="#4dffb2"/><rect x="585.8" y="430.2" width="2.2" height="19.8" fill="#4dffb2"/><rect x="557.1" y="456.9" width="13.3" height="20.1" fill="#2effd1"/><rect x="481.5" y="446.9" width="13.3" height="20.1" fill="#00b2ff"/><rect x="459.2" y="469.9" width="13.2" height="20.5" fill="#008aff"/><rect x="490.4" y="480.3" width="13" height="20.1" fill="#004dff"/><rect x="510.4" y="483.6" width="13" height="20.1" fill="#008aff"/><rect x="481.5" y="507" width="13.3" height="20.3" fill="#008aff"/><rect x="523.8" y="513.6" width="13.3" height="13.6" fill="#008aff"/><rect x="560" y="339.6" width="5.8" height="24" fill="#00bdff"/><rect x="568.3" y="346.2" width="17.5" height="20.6" fill="#00f0ff"/><rect x="568.3" y="352.9" width="13" height="20.6" fill="#00dbff"/><rect x="588.4" y="356.3" width="13.3" height="20.6" fill="#24ffdb"/><rect x="560" y="372.9" width="7.5" height="9.8" fill="#00d1ff"/><rect x="560" y="379.6" width="10" height="27.3" fill="#00f0ff"/><rect x="575.4" y="372.9" width="13" height="20.6" fill="#00faff"/><rect x="601.7" y="386.3" width="13.3" height="20.6" fill="#42ffbd"/><rect x="588.4" y="406.3" width="13.3" height="11.9" fill="#24ffdb"/><rect x="624.2" y="346.2" width="13" height="20.6" fill="#57ffa8"/><rect x="643.9" y="349.6" width="13.2" height="20.6" fill="#94ff6b"/><rect x="659.6" y="352.9" width="2.5" height="20.6" fill="#f0ff0f"/><rect x="655.1" y="376.3" width="7" height="20.6" fill="#94ff6b"/><rect x="622.1" y="403" width="13" height="15.3" fill="#c7ff38"/><rect x="641.8" y="406.3" width="13.3" height="11.9" fill="#f0ff0f"/><rect x="588.4" y="417.7" width="13.3" height="9.3" fill="#24ffdb"/><rect x="622.1" y="417.7" width="13" height="5.6" fill="#c7ff38"/><rect x="641.8" y="417.7" width="13.3" height="8.9" fill="#f0ff0f"/><rect x="566.2" y="426.9" width="13" height="20.1" fill="#42ffbd"/><rect x="586.2" y="429.7" width="13" height="20.6" fill="#57ffa8"/><rect x="610.6" y="439.9" width="13.3" height="20.1" fill="#6bff94"/><rect x="650.9" y="433.2" width="11.2" height="20.1" fill="#75ff8a"/><rect x="560" y="456.9" width="10.3" height="20.1" fill="#2effd1"/><rect x="597" y="456.9" width="13.3" height="20.1" fill="#24ffdb"/><rect x="523.5" y="513.6" width="13.3" height="20.2" fill="#009eff"/><rect x="410.7" y="298.4" width="30" height="12.8" fill="#00bdff"/></g>
<g clip-path="url(#dc)"><g filter="url(#bl)"><rect x="223.1" y="52.2" width="13.1" height="10.2" fill="#38ffc7"/><rect x="236.2" y="65.6" width="13.1" height="20" fill="#0000f5"/><rect x="258.3" y="58.5" width="13.3" height="20.7" fill="#0000ff"/><rect x="257" y="65.6" width="12.6" height="20" fill="#00d1ff"/><rect x="258.3" y="65.6" width="11.3" height="13.7" fill="#0061ff"/><rect x="247.5" y="85.7" width="13.3" height="20" fill="#0000f5"/><rect x="249.5" y="88.7" width="13.1" height="20" fill="#0000f5"/><rect x="271.6" y="79.1" width="13.1" height="19.7" fill="#0000fa"/><rect x="260.8" y="108.8" width="13.1" height="20" fill="#0000fa"/><rect x="278.4" y="108.8" width="13.3" height="20" fill="#0000fa"/><rect x="289.7" y="128.9" width="13.1" height="20" fill="#0000f5"/><rect x="289.7" y="52.2" width="13.1" height="16.9" fill="#0000f5"/><rect x="409.9" y="71.9" width="13.1" height="20.5" fill="#0075ff"/><rect x="358.9" y="98.8" width="13.1" height="20.2" fill="#0066ff"/><rect x="392" y="95.7" width="13.1" height="20.5" fill="#0070ff"/><rect x="379" y="128.9" width="13.1" height="20" fill="#0094ff"/><rect x="389.8" y="128.9" width="13.1" height="20" fill="#0080ff"/><rect x="407.9" y="142.8" width="13.1" height="20" fill="#0075ff"/><rect x="372.2" y="155.8" width="13.1" height="20.2" fill="#0094ff"/><rect x="341.3" y="159.1" width="12.6" height="20.2" fill="#006bff"/><rect x="361.4" y="188.8" width="13.1" height="21.5" fill="#0094ff"/><rect x="382.7" y="193" width="13.8" height="9.4" fill="#00009e"/><rect x="382.7" y="201.8" width="13.8" height="9.4" fill="#0000fa"/><rect x="373.9" y="201.8" width="10.1" height="9.4" fill="#00d1ff"/><rect x="396.6" y="202.6" width="4.5" height="8.6" fill="#0094ff"/><rect x="608" y="85.7" width="13.3" height="20.2" fill="#75ff8a"/><rect x="626.1" y="85.7" width="13.3" height="20.2" fill="#57ffa8"/><rect x="583.9" y="102.5" width="13.1" height="20" fill="#4dffb2"/><rect x="639.4" y="108.8" width="13.3" height="20.2" fill="#66ff99"/><rect x="601.7" y="155.8" width="13.1" height="20.2" fill="#5cffa3"/><rect x="626.1" y="159.1" width="13.3" height="20.2" fill="#a8ff57"/><rect x="156.3" y="212.7" width="12.8" height="20.1" fill="#0000e0"/><rect x="158.3" y="219.4" width="13" height="30.1" fill="#0000e3"/><rect x="158.3" y="222.2" width="17.5" height="27.3" fill="#0000e6"/><rect x="175.9" y="206" width="13.3" height="44.3" fill="#0000e3"/><rect x="189.2" y="208.9" width="1.7" height="41.5" fill="#0000e6"/><rect x="190.9" y="212.7" width="14.2" height="37.6" fill="#0000e6"/><rect x="205.1" y="215.6" width="7" height="34.8" fill="#0000e9"/><rect x="212.1" y="232.2" width="6.3" height="34.8" fill="#0000eb"/><rect x="218.4" y="236.4" width="3.7" height="30.6" fill="#0000eb"/><rect x="222.1" y="242.7" width="5" height="24.3" fill="#0024ff"/><rect x="227.1" y="252.8" width="8.8" height="22.6" fill="#0000f5"/><rect x="235.9" y="262.8" width="2.5" height="21" fill="#0000f5"/><rect x="238.4" y="266.1" width="9.2" height="43.1" fill="#0000f5"/><rect x="247.6" y="262.8" width="12.5" height="24" fill="#0019ff"/><rect x="260.1" y="265.6" width="6.7" height="21.1" fill="#0019ff"/><rect x="169.2" y="248.9" width="57.9" height="10.6" fill="#0000eb"/><rect x="171.7" y="258.9" width="66.7" height="30.6" fill="#0000ed"/><rect x="200.1" y="269.8" width="38.4" height="19.8" fill="#0000f4"/><rect x="185.4" y="289" width="73.1" height="20.3" fill="#0000f4"/><rect x="247.6" y="286.1" width="10.5" height="23.1" fill="#000aff"/><rect x="266.8" y="283.1" width="9.5" height="26.1" fill="#004dff"/><rect x="258.1" y="302.8" width="23.7" height="6.4" fill="#0038ff"/><rect x="276.3" y="272.8" width="13" height="19" fill="#0080ff"/><rect x="276.3" y="291.1" width="4.7" height="18.1" fill="#004dff"/><rect x="292.7" y="275.6" width="3.3" height="28.1" fill="#0061ff"/><rect x="171.7" y="271.4" width="13.7" height="18.1" fill="#0000d6"/><rect x="185.4" y="292.3" width="14.7" height="17" fill="#0000db"/><rect x="185" y="308.7" width="111" height="4.3" fill="#0000f5"/><rect x="200.1" y="312.4" width="95.9" height="13.6" fill="#0000f5"/><rect x="202.6" y="325.4" width="93.4" height="14.8" fill="#0000f5"/><rect x="200.6" y="339.6" width="13.2" height="20.3" fill="#0000eb"/><rect x="213.7" y="339.6" width="82.3" height="10.6" fill="#0000f5"/><rect x="215.9" y="349.6" width="80.1" height="10.6" fill="#0000f5"/><rect x="218.1" y="359.6" width="77.9" height="7.3" fill="#0000f5"/><rect x="222.6" y="366.3" width="73.4" height="13.4" fill="#0000f5"/><rect x="228.8" y="379.1" width="67.2" height="13.6" fill="#0000f8"/><rect x="231.8" y="392.1" width="64.2" height="8.1" fill="#0000f8"/><rect x="231.8" y="399.6" width="13.3" height="3.4" fill="#0000f8"/><rect x="246.8" y="399.6" width="49.2" height="10.3" fill="#0003ff"/><rect x="249.8" y="409.3" width="46.2" height="8.9" fill="#000aff"/><rect x="235.9" y="409.6" width="13.8" height="8.6" fill="#0061ff"/><rect x="275.1" y="308.7" width="20.9" height="109.6" fill="#001fff"/><rect x="253.5" y="372.1" width="23.4" height="20.6" fill="#0014ff"/><rect x="283.5" y="378.8" width="12.5" height="17.3" fill="#0038ff"/><rect x="361.1" y="199.7" width="13.3" height="9.8" fill="#008aff"/><rect x="374.4" y="199.7" width="26.7" height="16.5" fill="#00a8ff"/><rect x="381.1" y="215.6" width="20" height="10.6" fill="#00b2ff"/><rect x="384.4" y="199.7" width="12.5" height="7.3" fill="#0000a8"/><rect x="384.4" y="206.4" width="12.5" height="5.3" fill="#000fff"/><rect x="331.9" y="229.4" width="13.3" height="10.1" fill="#0000a8"/><rect x="331.9" y="238.9" width="13.3" height="6.4" fill="#0019ff"/><rect x="325.2" y="235.6" width="6.7" height="21.5" fill="#0094ff"/><rect x="331.9" y="244.8" width="14.2" height="12.3" fill="#008aff"/><rect x="330.2" y="256.4" width="14.2" height="9.8" fill="#0094ff"/><rect x="362.7" y="225.6" width="13.3" height="13.1" fill="#0000a8"/><rect x="362.7" y="238.1" width="13.3" height="8.1" fill="#000fff"/><rect x="354.1" y="232.2" width="8.7" height="19.8" fill="#009eff"/><rect x="362.7" y="245.6" width="15.9" height="24" fill="#0094ff"/><rect x="351.9" y="258.9" width="13.3" height="9.8" fill="#0000a8"/><rect x="351.9" y="268.1" width="13.3" height="5.6" fill="#000fff"/><rect x="344.4" y="249.8" width="18.4" height="3.6" fill="#008aff"/><rect x="344.4" y="252.8" width="5.3" height="13.4" fill="#008aff"/><rect x="360.7" y="252.8" width="2" height="6.8" fill="#008aff"/><rect x="296" y="273.1" width="7.5" height="17.3" fill="#0061ff"/><rect x="303.5" y="269.4" width="12.5" height="21.8" fill="#0075ff"/><rect x="322.7" y="265.6" width="23.4" height="14.8" fill="#008aff"/><rect x="316" y="276.5" width="6.7" height="14.8" fill="#0080ff"/><rect x="318.5" y="279.8" width="22.5" height="20.6" fill="#0080ff"/><rect x="296" y="289.8" width="9.2" height="6.4" fill="#0061ff"/><rect x="296" y="295.6" width="15.9" height="13.6" fill="#002eff"/><rect x="311.9" y="299.5" width="6.7" height="9.8" fill="#0075ff"/><rect x="314.4" y="299.8" width="30" height="9.4" fill="#008aff"/><rect x="329.4" y="303.2" width="15" height="6.1" fill="#0042ff"/><rect x="346.1" y="273.1" width="28.4" height="20.6" fill="#00a8ff"/><rect x="347.7" y="293.1" width="16.7" height="16.1" fill="#008aff"/><rect x="364.4" y="293.1" width="11.7" height="7.3" fill="#008aff"/><rect x="376.1" y="293.1" width="10.8" height="16.1" fill="#0080ff"/><rect x="378.6" y="268.9" width="12.5" height="9.8" fill="#0000bd"/><rect x="378.6" y="278.1" width="12.5" height="10.6" fill="#0024ff"/><rect x="387.8" y="263.1" width="31.7" height="17.3" fill="#008aff"/><rect x="391.1" y="279.8" width="21.7" height="11.4" fill="#0080ff"/><rect x="419.5" y="254.8" width="20" height="19" fill="#00c7ff"/><rect x="425.3" y="242.2" width="14.2" height="19.8" fill="#009eff"/><rect x="427.8" y="244.8" width="10.8" height="13.9" fill="#0000e6"/><rect x="427.8" y="232.2" width="14.2" height="11.4" fill="#00dbff"/><rect x="437.8" y="225.6" width="4.2" height="8.1" fill="#00e5ff"/><rect x="419.5" y="273.1" width="13.3" height="13.9" fill="#009eff"/><rect x="412.8" y="284.8" width="15" height="11.4" fill="#0000fa"/><rect x="411.1" y="295.6" width="15" height="8.1" fill="#00d1ff"/><rect x="386.9" y="299.8" width="24.2" height="9.4" fill="#0080ff"/><rect x="391.1" y="290.6" width="5" height="18.6" fill="#0080ff"/><rect x="410.3" y="290.6" width="2.5" height="9.8" fill="#0080ff"/><rect x="426.1" y="293.1" width="15.9" height="7.3" fill="#00d1ff"/><rect x="411.1" y="303.2" width="30.9" height="6.1" fill="#00b2ff"/><rect x="344.4" y="265.6" width="8.3" height="14.8" fill="#0094ff"/><rect x="341.1" y="279.8" width="5" height="13.9" fill="#0094ff"/><rect x="412.8" y="279.8" width="6.7" height="5.9" fill="#009eff"/><rect x="426.1" y="299.8" width="8.3" height="4.3" fill="#00d1ff"/><rect x="445.7" y="208.9" width="13" height="20.6" fill="#0000fa"/><rect x="442" y="221.4" width="15" height="20.6" fill="#00bdff"/><rect x="442" y="241.4" width="12.5" height="8.1" fill="#00dbff"/><rect x="463.4" y="222.7" width="13.3" height="30.1" fill="#00f0ff"/><rect x="476.7" y="232.7" width="6.7" height="20.1" fill="#00f0ff"/><rect x="443.7" y="256.1" width="13" height="10.9" fill="#00d1ff"/><rect x="442" y="266.4" width="21.4" height="19" fill="#00a8ff"/><rect x="442" y="284.8" width="14.2" height="10.6" fill="#000fff"/><rect x="442" y="294.8" width="13.3" height="10.6" fill="#0000b2"/><rect x="467.9" y="282.8" width="13.3" height="12.6" fill="#24ffdb"/><rect x="481.2" y="292.8" width="10.8" height="16.5" fill="#0080ff"/><rect x="467.9" y="294.8" width="13.3" height="14.4" fill="#006bff"/><rect x="470.4" y="301.5" width="10.8" height="7.8" fill="#0019ff"/><rect x="458.7" y="302.3" width="10" height="6.9" fill="#009eff"/><rect x="492.1" y="299.8" width="10.8" height="9.4" fill="#008aff"/><rect x="495.1" y="282.8" width="12.8" height="20.1" fill="#00f0ff"/><rect x="512.4" y="286.1" width="13.3" height="20.1" fill="#00f0ff"/><rect x="532.6" y="292.8" width="13.3" height="16.5" fill="#00f0ff"/><rect x="296" y="308.7" width="146" height="109.6" fill="#0057ff"/><rect x="296" y="308.7" width="50.1" height="109.6" fill="#003dff"/><rect x="306" y="333.7" width="40" height="19" fill="#006bff"/><rect x="347.7" y="348.7" width="15" height="15.6" fill="#0005ff"/><rect x="379.4" y="312" width="10" height="13.9" fill="#0019ff"/><rect x="394.4" y="363.8" width="31.7" height="19" fill="#000fff"/><rect x="396.1" y="310.4" width="45.9" height="13.9" fill="#00a8ff"/><rect x="386.1" y="392.1" width="16.7" height="17.3" fill="#000fff"/><rect x="366.1" y="325.4" width="23.4" height="22.3" fill="#0075ff"/><rect x="404.5" y="383.8" width="30" height="19" fill="#0075ff"/><rect x="296" y="358.8" width="46.7" height="37.3" fill="#004dff"/><rect x="442" y="308.7" width="76.8" height="100.7" fill="#008aff"/><rect x="442" y="308.7" width="10" height="34" fill="#00a8ff"/><rect x="442" y="353.8" width="10" height="25.6" fill="#0061ff"/><rect x="458.7" y="315.4" width="19.2" height="19" fill="#009eff"/><rect x="481.2" y="315.4" width="24.2" height="24" fill="#00d1ff"/><rect x="505.4" y="312.9" width="13.3" height="13.1" fill="#38ffc7"/><rect x="505.4" y="325.4" width="25" height="15.6" fill="#42ffbd"/><rect x="522.1" y="326.2" width="8.3" height="8.1" fill="#70ff8f"/><rect x="532.9" y="319.5" width="12.5" height="17.3" fill="#4dffb2"/><rect x="532.9" y="308.7" width="12.5" height="4.3" fill="#00e5ff"/><rect x="518.8" y="336.2" width="30" height="23.1" fill="#00a8ff"/><rect x="520.4" y="358.8" width="21.7" height="17.3" fill="#00bdff"/><rect x="518.8" y="375.4" width="14.2" height="13.9" fill="#00c7ff"/><rect x="553" y="339.6" width="12.5" height="23.1" fill="#00c7ff"/><rect x="568" y="346.2" width="17.5" height="26.5" fill="#00e5ff"/><rect x="545.5" y="366.3" width="13.3" height="14.8" fill="#00f0ff"/><rect x="555.5" y="372.9" width="15" height="14.8" fill="#00dbff"/><rect x="575.5" y="372.9" width="12.5" height="19.8" fill="#00faff"/><rect x="537.1" y="380.4" width="18.4" height="19" fill="#00d1ff"/><rect x="543.8" y="402.1" width="13.3" height="16.1" fill="#00e5ff"/><rect x="515.1" y="393" width="13.7" height="19.8" fill="#00c7ff"/><rect x="527.9" y="408.8" width="14.2" height="9.4" fill="#00b2ff"/><rect x="445.3" y="392.1" width="13.3" height="17.3" fill="#0061ff"/><rect x="458.7" y="392.1" width="15" height="22.3" fill="#0080ff"/><rect x="475.4" y="389.6" width="12.5" height="19.8" fill="#0080ff"/><rect x="490.4" y="375.4" width="21.7" height="34" fill="#008aff"/><rect x="457" y="408.8" width="16.7" height="9.4" fill="#008aff"/><rect x="442" y="378.8" width="13.3" height="13.9" fill="#004dff"/><rect x="461.2" y="333.7" width="8.3" height="15.6" fill="#0000b2"/><rect x="482" y="339.6" width="15" height="16.5" fill="#002eff"/><rect x="450.3" y="365.4" width="15" height="13.9" fill="#0000f0"/><rect x="504.6" y="349.6" width="14.2" height="14.8" fill="#0038ff"/><rect x="472.9" y="385.8" width="15" height="4.4" fill="#24ffdb"/><rect x="254" y="417.7" width="42" height="15.6" fill="#000aff"/><rect x="260.1" y="432.7" width="35.9" height="3.9" fill="#000aff"/><rect x="271.8" y="436.1" width="24.2" height="17.3" fill="#0033ff"/><rect x="278.5" y="452.7" width="13.3" height="20.6" fill="#001fff"/><rect x="291.8" y="452.7" width="4.2" height="10.6" fill="#0019ff"/><rect x="235.9" y="417.7" width="13.3" height="12.6" fill="#0061ff"/><rect x="254" y="439.9" width="13.3" height="20.1" fill="#0061ff"/><rect x="269.3" y="476.6" width="13.7" height="20.5" fill="#0061ff"/><rect x="254" y="499.8" width="13.3" height="20.6" fill="#0038ff"/><rect x="296" y="417.7" width="18" height="45.7" fill="#000fff"/><rect x="314" y="417.7" width="12.8" height="52.3" fill="#0019ff"/><rect x="326.9" y="417.7" width="2.5" height="49.3" fill="#0019ff"/><rect x="329.4" y="417.7" width="9.2" height="52.3" fill="#0024ff"/><rect x="338.5" y="417.7" width="20" height="56" fill="#0038ff"/><rect x="358.6" y="417.7" width="13.3" height="59.3" fill="#004dff"/><rect x="371.9" y="417.7" width="24.7" height="56" fill="#0057ff"/><rect x="396.6" y="417.7" width="17.5" height="59" fill="#0057ff"/><rect x="414.1" y="417.7" width="9.5" height="52.7" fill="#006bff"/><rect x="423.6" y="422.7" width="13.3" height="67.7" fill="#0080ff"/><rect x="437" y="422.7" width="2.2" height="61" fill="#0080ff"/><rect x="439.2" y="422.7" width="2.8" height="47.7" fill="#0075ff"/><rect x="396.9" y="456.9" width="14.2" height="13.9" fill="#0000f0"/><rect x="397.4" y="470.3" width="13.7" height="6.4" fill="#0000b2"/><rect x="296" y="417.7" width="129.3" height="5.6" fill="#0024ff"/><rect x="346.1" y="417.7" width="79.3" height="20.6" fill="#004dff"/><rect x="296" y="442.7" width="18" height="20.6" fill="#002eff"/><rect x="314" y="442.7" width="12.8" height="27.3" fill="#0033ff"/><rect x="329.4" y="442.7" width="9.2" height="27.3" fill="#0038ff"/><rect x="442" y="423.5" width="16.7" height="28.1" fill="#0042ff"/><rect x="442" y="451.1" width="7.5" height="12.3" fill="#0038ff"/><rect x="442" y="462.8" width="1.7" height="7.3" fill="#0038ff"/><rect x="461.2" y="417.7" width="13.3" height="12.3" fill="#00a8ff"/><rect x="463.7" y="423.5" width="17.5" height="19.8" fill="#0075ff"/><rect x="457" y="442.7" width="20" height="7.3" fill="#0075ff"/><rect x="457" y="449.4" width="13" height="14.3" fill="#0075ff"/><rect x="490.4" y="420.2" width="13.3" height="20.1" fill="#008aff"/><rect x="512.4" y="423.5" width="13.3" height="20.1" fill="#009eff"/><rect x="528.3" y="417.7" width="13" height="12.3" fill="#00bdff"/><rect x="543.8" y="417.7" width="11.7" height="5.6" fill="#00f0ff"/><rect x="566" y="426.9" width="13.2" height="20.1" fill="#4dffb2"/><rect x="585.8" y="430.2" width="2.2" height="19.8" fill="#4dffb2"/><rect x="557.1" y="456.9" width="13.3" height="20.1" fill="#2effd1"/><rect x="481.5" y="446.9" width="13.3" height="20.1" fill="#00b2ff"/><rect x="459.2" y="469.9" width="13.2" height="20.5" fill="#008aff"/><rect x="490.4" y="480.3" width="13" height="20.1" fill="#004dff"/><rect x="510.4" y="483.6" width="13" height="20.1" fill="#008aff"/><rect x="481.5" y="507" width="13.3" height="20.3" fill="#008aff"/><rect x="523.8" y="513.6" width="13.3" height="13.6" fill="#008aff"/><rect x="560" y="339.6" width="5.8" height="24" fill="#00bdff"/><rect x="568.3" y="346.2" width="17.5" height="20.6" fill="#00f0ff"/><rect x="568.3" y="352.9" width="13" height="20.6" fill="#00dbff"/><rect x="588.4" y="356.3" width="13.3" height="20.6" fill="#24ffdb"/><rect x="560" y="372.9" width="7.5" height="9.8" fill="#00d1ff"/><rect x="560" y="379.6" width="10" height="27.3" fill="#00f0ff"/><rect x="575.4" y="372.9" width="13" height="20.6" fill="#00faff"/><rect x="601.7" y="386.3" width="13.3" height="20.6" fill="#42ffbd"/><rect x="588.4" y="406.3" width="13.3" height="11.9" fill="#24ffdb"/><rect x="624.2" y="346.2" width="13" height="20.6" fill="#57ffa8"/><rect x="643.9" y="349.6" width="13.2" height="20.6" fill="#94ff6b"/><rect x="659.6" y="352.9" width="2.5" height="20.6" fill="#f0ff0f"/><rect x="655.1" y="376.3" width="7" height="20.6" fill="#94ff6b"/><rect x="622.1" y="403" width="13" height="15.3" fill="#c7ff38"/><rect x="641.8" y="406.3" width="13.3" height="11.9" fill="#f0ff0f"/><rect x="588.4" y="417.7" width="13.3" height="9.3" fill="#24ffdb"/><rect x="622.1" y="417.7" width="13" height="5.6" fill="#c7ff38"/><rect x="641.8" y="417.7" width="13.3" height="8.9" fill="#f0ff0f"/><rect x="566.2" y="426.9" width="13" height="20.1" fill="#42ffbd"/><rect x="586.2" y="429.7" width="13" height="20.6" fill="#57ffa8"/><rect x="610.6" y="439.9" width="13.3" height="20.1" fill="#6bff94"/><rect x="650.9" y="433.2" width="11.2" height="20.1" fill="#75ff8a"/><rect x="560" y="456.9" width="10.3" height="20.1" fill="#2effd1"/><rect x="597" y="456.9" width="13.3" height="20.1" fill="#24ffdb"/><rect x="523.5" y="513.6" width="13.3" height="20.2" fill="#009eff"/><rect x="410.7" y="298.4" width="30" height="12.8" fill="#00bdff"/></g></g>
<g fill="#fff" shape-rendering="crispEdges"><rect x="185.4" y="283.4" width="5.5" height="9.2"/><rect x="195.9" y="233.4" width="2.2" height="6.7"/><rect x="191.7" y="239.7" width="6.7" height="3.3"/><rect x="198.1" y="243" width="5" height="2.8"/><rect x="274.3" y="333.7" width="8.7" height="3.7"/><rect x="275.5" y="336.5" width="13.8" height="9.5"/><rect x="293.8" y="357.4" width="2.2" height="5.8"/><rect x="285.2" y="309" width="8.3" height="1.3"/><rect x="281" y="292.9" width="12.8" height="17.2"/><rect x="258.1" y="286.4" width="9.2" height="16.7"/><rect x="305.2" y="291.4" width="12.5" height="8.3"/><rect x="341.1" y="293.4" width="6.7" height="8.3"/><rect x="365.2" y="300.1" width="10.8" height="8.8"/><rect x="298.5" y="320.7" width="4.2" height="11.7"/><rect x="302.7" y="330.7" width="4.2" height="11.7"/><rect x="331.9" y="323.2" width="6.7" height="10.8"/><rect x="323.5" y="333.2" width="15" height="3.3"/><rect x="336" y="336.5" width="2.5" height="5.8"/><rect x="356.1" y="336.5" width="8.3" height="10"/><rect x="358.6" y="346.5" width="6.7" height="6.2"/><rect x="343.1" y="353.2" width="3.8" height="7.5"/><rect x="343.1" y="364.9" width="10.5" height="11.7"/><rect x="381.1" y="373.2" width="6.3" height="5.8"/><rect x="391.9" y="336.5" width="4.2" height="10"/><rect x="396.1" y="325.7" width="2.5" height="6.7"/><rect x="421.1" y="329.9" width="6.7" height="12.5"/><rect x="296" y="353.2" width="2" height="6.7"/><rect x="332.4" y="399.9" width="12.8" height="7.5"/><rect x="359.1" y="399.9" width="19.5" height="16.7"/><rect x="434.5" y="390.8" width="7.5" height="16.7"/><rect x="428.7" y="404.1" width="13.3" height="13.8"/><rect x="402.8" y="403.3" width="2.5" height="9.2"/><rect x="410.3" y="413.3" width="2.5" height="4.7"/><rect x="311.9" y="309" width="6.7" height="0.8"/><rect x="346.1" y="309" width="3.3" height="0.8"/><rect x="366.1" y="309" width="8.3" height="3"/><rect x="504.1" y="309" width="14.7" height="4"/><rect x="442" y="343.2" width="5.8" height="10"/><rect x="452" y="309" width="6.7" height="6.7"/><rect x="455" y="379.9" width="10.3" height="7.5"/><rect x="458.7" y="387.4" width="14.2" height="5"/><rect x="481.2" y="357.4" width="9.2" height="3.3"/><rect x="510.1" y="333.2" width="5" height="11.7"/><rect x="477.9" y="316.5" width="3.3" height="10.8"/><rect x="442" y="409.1" width="3.3" height="8.8"/><rect x="487.9" y="409.1" width="2.5" height="8.8"/><rect x="512.1" y="389.1" width="3" height="20"/><rect x="473.7" y="409.1" width="1.7" height="8.8"/><rect x="487.9" y="389.1" width="2.5" height="20"/><rect x="341.1" y="443.4" width="6.3" height="3.3"/><rect x="349.7" y="446.7" width="18" height="3.3"/><rect x="371.9" y="450" width="4.7" height="3.5"/><rect x="410" y="453.5" width="2.3" height="3.2"/><rect x="425.8" y="456.7" width="4.2" height="6.3"/><rect x="410" y="418" width="2.3" height="5"/></g>
<path d="M157.7 49.5 L161.5 52.5 L162.7 57.6 L162.2 62.6 L166.5 66.4 L169.0 75.2 L170.3 85.2 L169.0 92.8 L166.5 99.8 L170.3 103.3 L176.6 105.3 L181.6 101.6 L186.6 96.5 L191.2 91.0 L194.2 92.8 L196.7 99.1 L199.2 110.4 M233.1 146.8 L239.4 153.1 L244.5 161.9 L248.2 170.7 L254.5 175.7 L260.8 180.8 L263.3 189.6 L262.1 197.1 L264.6 198.9 L269.6 193.3 L275.9 188.3 L278.4 182.0 L278.4 177.0 L284.7 174.5 L292.2 169.5 L298.5 161.9 L300.5 150.6 L300.5 130.5 L298.5 112.9 L293.5 102.8 L285.9 92.8 L278.4 82.7 L273.4 75.2 L270.1 67.6 L268.8 60.1 L270.1 53.8 L271.6 49.5 M302.3 51.3 L307.3 48.8 L314.9 48.8 L316.1 52.5 L313.6 60.1 L309.8 67.6 L304.8 71.4 L299.0 70.1 L295.2 66.4 L296.0 60.1 L298.5 55.1 Z M402.4 68.9 L406.6 67.6 L411.7 70.1 L415.4 71.4 L417.2 69.4 L418.4 77.7 L418.4 90.3 L414.2 99.1 L410.4 107.9 L409.9 115.4 L411.7 122.9 L414.2 129.2 L419.2 127.5 L425.5 128.0 L430.5 131.7 L429.3 136.8 L431.8 141.8 L433.0 144.3 L429.3 144.3 L425.5 138.0 L421.7 133.0 L419.2 134.3 L420.0 139.3 L417.9 140.5 L414.2 134.3 L410.4 131.7 L405.9 133.0 L402.4 130.5 L404.9 125.5 L401.6 121.7 L398.3 119.2 L395.8 112.9 L396.6 105.3 L394.8 97.8 L400.3 92.8 L399.1 82.7 L401.6 72.7 Z M391.5 166.4 L393.3 170.7 L391.5 177.0 L386.5 185.8 L380.2 195.9 L375.2 202.1 L372.2 203.4 L373.9 198.4 L380.2 189.6 L386.5 179.5 L390.3 170.7 Z M210.1 309.0 L209.2 303.5 L208.4 298.4 L206.7 290.9 L202.6 285.1 L198.4 280.1 L194.2 271.7 L190.0 265.9 L185.0 260.1 L180.9 254.2 L177.5 248.4 L176.4 242.5 L177.5 240.0 L180.9 240.4 L184.2 244.2 L189.2 245.9 L194.2 246.7 L198.4 250.1 L201.7 257.6 L205.9 264.2 L210.9 268.4 L215.9 272.6 L220.1 279.3 L224.3 285.9 L228.4 286.8 L232.6 290.9 L236.8 292.6 L240.9 297.6 L244.3 300.9 L245.9 306.8 L246.8 309.0 M203.1 199.2 L203.1 204.2 L205.9 206.7 L209.2 209.2 L212.6 215.9 L215.9 220.9 L219.2 226.7 L221.4 233.4 L222.1 241.7 L223.1 250.1 L224.3 256.7 L227.6 265.1 L230.1 271.7 L232.6 278.4 L236.8 283.4 L241.8 288.4 L245.9 293.4 L250.1 296.8 L254.3 297.3 L256.0 295.9 L255.1 290.9 L252.6 283.4 L250.1 277.6 L248.4 271.7 L248.1 263.4 L249.3 255.1 L249.3 249.2 L246.8 243.4 L242.6 237.5 L237.6 231.7 L234.3 227.5 L231.8 224.7 L227.6 223.4 L224.3 220.9 L222.6 215.9 L222.1 210.0 L220.1 205.0 L217.6 200.0 M180.9 278.4 L183.0 278.8 L185.4 282.1 L185.9 283.9 L183.9 283.4 L181.7 280.9 Z M193.9 298.4 L195.9 297.6 L198.4 300.9 L200.1 305.1 L199.2 306.8 L196.7 304.3 L194.2 300.9 Z M210.4 309.0 L214.2 313.2 L218.4 317.3 L221.7 324.0 L224.3 332.4 L225.9 339.9 L229.3 347.4 L233.4 354.9 L237.6 361.6 L240.9 368.2 L245.9 374.9 L251.8 380.7 L256.0 386.6 L259.3 391.6 L263.5 390.3 L266.8 391.1 L269.3 392.4 L269.8 387.4 L270.5 380.7 L271.0 370.7 L272.6 362.4 L273.5 354.9 L271.0 351.5 L268.5 346.5 L265.1 344.9 L261.8 340.7 L259.3 335.7 L256.8 329.9 L252.6 329.0 L250.1 324.9 L251.4 317.3 L250.1 311.5 L247.6 309.0 M266.8 338.2 L270.1 336.5 L272.6 337.4 L274.3 342.4 L276.0 348.2 L278.5 351.5 L277.6 355.7 L275.1 354.9 L272.6 350.7 L270.1 344.9 L266.8 341.5 Z M287.7 350.7 L291.8 352.0 L292.7 354.9 L291.0 358.7 L288.2 357.4 L287.2 353.7 Z M208.4 328.7 L210.1 330.7 L212.1 336.5 L212.6 339.4 L210.1 339.9 L207.9 334.9 L207.2 330.7 Z M296.0 405.8 L295.2 404.9 L291.8 399.1 L286.8 395.8 L281.8 394.1 L277.6 395.8 L272.6 394.1 L270.1 399.9 L267.6 404.9 L271.8 407.4 L276.8 410.8 L281.8 413.8 L288.5 417.1 L290.2 418.0 M296.0 309.0 L297.7 300.1 L299.3 294.3 L303.5 290.1 L309.3 293.4 L316.9 295.1 L319.4 286.8 L321.9 278.4 L327.7 275.9 L333.5 271.7 L337.7 265.1 L341.9 258.4 L346.1 252.6 L350.2 250.1 L354.4 249.2 L357.7 242.5 L361.9 235.0 L366.1 228.4 L369.8 223.7 L372.8 226.7 L376.1 230.9 L376.9 237.5 L382.8 241.7 L389.4 246.7 L383.6 250.1 L381.1 253.4 L383.6 257.6 L378.6 259.2 L377.8 266.7 L376.1 271.7 L378.6 278.4 L377.8 285.9 L379.4 292.6 L384.4 298.4 L386.9 302.6 L382.8 305.1 L376.1 307.6 L372.8 309.0 M394.4 309.0 L399.5 305.1 L404.5 299.3 L411.1 301.8 L417.8 304.3 L424.5 305.1 L431.2 303.5 L437.8 299.3 L442.0 295.1 M297.7 309.0 L300.2 314.0 L301.8 320.7 L305.2 327.4 L307.7 335.7 L309.3 344.9 L311.0 353.2 L315.2 354.9 L321.0 354.1 L323.5 358.2 L324.4 362.4 L329.4 360.7 L336.0 358.2 L339.4 360.7 L346.1 362.1 L348.6 365.7 L349.7 369.9 L354.4 366.6 L360.2 362.4 L363.6 357.4 L365.2 350.7 L366.1 344.0 L365.2 339.0 L369.4 332.4 L372.8 324.9 L374.1 317.3 L374.4 309.0 M395.3 319.0 L392.8 325.7 L391.4 335.7 L389.8 345.7 L386.9 353.2 L387.8 359.9 L391.1 364.1 L393.6 369.1 L392.8 379.1 L391.9 388.3 L394.4 390.8 L398.6 389.9 L400.3 382.4 L400.3 372.4 L399.5 362.4 L399.8 355.7 L402.8 352.4 L405.3 353.2 L406.1 357.4 L407.0 362.4 L408.6 367.4 L411.1 371.6 L412.8 375.7 L415.3 377.4 L417.8 380.7 L418.6 387.4 L421.1 391.6 L424.1 387.4 L424.8 380.7 L422.8 373.2 L419.5 366.6 L417.0 360.7 L415.3 355.7 L412.8 350.7 L410.3 344.9 L412.0 341.5 L416.1 337.4 L420.3 331.5 L425.3 329.0 L426.1 325.7 L423.6 324.4 L417.8 326.5 L411.1 329.9 L407.0 333.2 L402.8 333.2 L400.3 329.0 M437.5 339.4 L439.8 338.7 L441.5 340.4 L439.8 342.0 L437.5 341.4 Z M296.0 405.8 L302.7 406.6 L309.3 407.4 L312.7 404.9 L315.2 401.6 L319.4 403.3 L325.2 406.6 L330.2 409.1 L332.7 411.6 L333.5 415.8 L339.4 418.0 M332.7 409.1 L338.5 407.8 L341.9 408.8 L340.2 410.8 L335.2 411.6 L332.7 410.8 Z M488.7 319.0 L491.2 316.5 L495.1 317.3 L496.2 319.8 L492.9 322.0 L489.6 321.0 Z M462.0 338.2 L465.0 334.9 L468.7 337.4 L467.0 339.9 L462.9 339.9 Z M450.7 362.1 L452.8 358.2 L457.0 357.7 L460.0 360.7 L459.5 365.4 L456.2 367.4 L452.3 365.7 Z M467.9 356.6 L472.0 354.1 L480.4 353.2 L487.1 356.6 L491.2 359.1 L492.1 366.6 L488.7 362.4 L483.7 361.6 L477.9 362.4 L472.0 361.6 L468.7 359.1 Z M493.7 332.4 L497.1 328.2 L501.2 325.7 L504.6 321.5 L509.6 320.7 L512.9 324.0 L517.1 324.9 L520.4 325.7 L522.1 332.4 L522.9 339.0 L522.1 344.9 L519.6 344.0 L515.4 344.9 L510.4 346.5 L506.2 345.7 L502.9 342.4 L501.2 337.4 L497.1 335.7 Z M519.6 344.0 L518.8 349.0 L512.1 349.9 L506.2 352.4 L503.7 353.7 L507.9 357.4 L510.4 362.4 L512.1 369.1 L515.4 367.4 L517.9 363.2 L522.1 366.6 L527.1 371.6 L532.9 374.9 L538.8 377.4 L545.5 380.7 L552.1 384.9 L557.1 389.9 L560.5 397.4 L562.1 405.8 L563.0 413.3 L558.8 415.8 L557.1 418.0 M522.9 339.0 L524.6 347.4 L527.1 354.1 L530.4 359.1 L533.8 360.7 L537.1 357.4 L540.4 351.5 L544.6 345.7 L548.8 339.9 L553.0 336.5 L556.3 335.4 L560.5 338.2 L565.5 341.5 L571.3 345.7 L578.8 349.0 L588.0 352.7 M534.6 325.7 L537.9 324.4 L540.4 327.4 L541.3 330.7 L538.8 332.4 L535.4 329.9 Z M525.4 389.9 L527.1 395.8 L525.4 404.1 L522.9 408.3 L521.8 402.4 L522.9 395.8 Z M498.4 412.1 L500.1 415.0 L498.7 419.1 L496.4 422.1 L495.9 418.3 L497.1 414.5 Z M290.0 417.7 L296.0 418.8 L302.7 418.8 L309.3 421.3 L316.0 424.7 L324.4 426.0 L331.0 427.2 L336.0 425.5 L340.2 428.0 L346.1 430.5 L346.9 424.7 L346.1 418.0 L340.2 418.8 L336.0 418.0 M349.4 427.2 L353.6 425.5 L356.9 428.8 L353.6 432.7 L350.2 430.5 Z M362.7 427.2 L366.1 428.0 L364.7 433.9 L361.4 434.7 L361.9 429.7 Z M367.7 432.2 L370.3 429.7 L375.3 428.8 L377.8 425.5 L379.4 423.8 L382.8 426.3 L386.9 427.2 L387.8 431.3 L382.8 432.2 L378.6 433.0 L375.3 436.4 L370.3 437.7 L367.7 435.5 Z M395.8 428.8 L399.5 426.3 L404.5 427.2 L409.5 430.5 L415.3 429.7 L420.3 425.5 L422.8 423.0 L423.6 426.3 L419.5 431.3 L413.6 433.9 L407.8 436.4 L402.8 433.9 L397.8 433.0 L395.8 430.5 Z M388.3 443.0 L392.8 441.0 L397.8 441.4 L402.0 445.5 L404.5 449.7 L401.1 453.0 L396.9 450.5 L392.8 447.2 L388.6 445.5 Z M442.0 434.7 L437.8 438.0 L432.0 442.2 L429.5 448.0 L427.8 453.9 L432.0 453.9 L437.0 451.4 L442.0 447.2 M442.0 436.4 L447.0 433.0 L453.7 429.7 L460.4 428.3 L457.9 432.2 L452.0 435.5 L446.2 438.9 L442.0 442.2 M448.7 418.8 L452.0 417.2 L455.0 418.8 L453.7 421.7 L449.5 422.2 Z M495.4 421.3 L497.9 418.0 M557.1 418.0 L554.6 423.8 L555.5 427.2 L562.1 424.7 L568.8 423.8 L574.7 424.7 L578.8 429.7 L583.0 434.7 L588.0 437.2 M487.1 470.6 L492.1 468.9 L497.9 468.1 L499.6 471.4 L497.1 474.7 L492.9 476.4 L487.9 473.9 Z M441.8 516.4 L443.7 511.8 L448.7 508.9 L453.7 506.4 L457.9 503.1 L462.0 503.9 L465.4 508.1 L468.7 513.9 L470.4 518.9 L475.4 516.4 L479.5 517.3 L482.9 518.9 L482.9 514.8 L480.4 509.8 L482.9 503.9 L486.2 498.1 L487.9 491.4 L491.2 486.4 L495.4 483.1 L501.2 481.4 L507.1 480.6 L508.7 475.6 L507.1 469.7 L512.1 471.4 L516.3 474.7 L522.1 477.2 L528.8 479.7 L533.8 481.1 L537.9 478.9 L540.4 483.1 L542.1 479.7 L544.6 478.4 L548.0 481.4 L546.3 486.4 L544.6 493.9 L540.4 494.8 L539.6 501.4 L538.8 508.1 L536.3 514.8 L537.9 519.8 L542.1 524.0 L543.8 527.0 L545.1 531.5 M560.0 337.4 L565.0 342.4 L570.0 345.7 L576.7 347.7 L583.4 350.7 L590.0 354.4 L598.4 359.1 L605.9 362.7 L611.7 366.6 L617.6 371.6 L622.6 376.6 L625.9 381.6 L626.7 386.6 L627.6 389.9 L631.7 392.1 L635.9 394.9 L640.9 394.4 L643.4 397.4 L645.1 401.6 L644.3 405.8 L640.1 407.4 L637.6 409.1 L639.3 413.3 L641.8 418.0 M633.8 344.0 L635.9 342.4 L639.3 342.9 L640.6 344.4 L638.4 346.0 L635.1 345.7 Z M664.6 389.9 L658.4 391.1 L652.6 390.4 L648.4 391.1 L650.9 393.3 L655.1 395.8 L658.4 399.1 L664.6 400.4 M560.0 394.1 L561.7 402.4 L563.0 412.5 L560.0 414.1 M610.1 417.5 L614.2 415.8 L617.6 417.5 M560.0 426.3 L565.0 424.3 L571.7 423.8 L575.9 423.8 L578.4 428.0 L581.7 433.0 L585.0 436.4 L591.7 437.7 L597.5 439.7 L601.7 437.2 L604.2 433.0 L603.7 428.8 L605.9 424.7 L609.2 420.5 L611.7 418.0 M617.6 418.0 L622.6 420.5 L628.4 423.8 L630.9 429.7 L633.4 434.7 L637.6 440.5 L641.8 445.5 L642.6 449.7 L648.4 451.4 L655.1 453.0 L660.1 455.0 L664.6 458.9 M641.8 418.0 L645.9 422.2 L648.4 427.2 L649.3 433.0 L651.8 436.4 L655.9 437.2 L656.8 440.5 L660.1 443.9 L664.6 444.7 M661.8 447.2 L664.6 449.7 M589.2 527.0 L590.0 514.8 L589.2 504.8 L589.7 498.1 L590.4 488.1 L590.9 478.1 L593.4 471.4 L594.2 464.7 L596.7 461.7 L599.2 464.7 L600.9 473.1 L603.7 483.1 L606.7 491.4 L607.6 499.8 L609.2 507.3 L611.7 509.4 L615.1 508.4 L618.4 511.4 L621.7 515.6 L623.1 521.5 L623.7 527.0 M389.0 583.1 L396.6 582.6 L404.1 580.6 L409.1 573.0 L414.2 561.7 L416.7 555.4 L416.2 547.9 L420.5 541.6 L423.5 538.3 L425.5 544.1 L427.5 549.1 L430.0 544.1 L428.0 536.6 L431.8 534.1 L435.5 531.5 L438.6 524.0 L441.8 516.5 M542.6 525.3 L545.1 529.8 L551.4 530.3 L557.7 536.6 L566.5 542.9 L571.5 550.4 L575.3 554.7 L581.6 551.7 L583.4 544.1 L586.6 535.3 L588.6 527.0 M623.3 527.0 L624.3 537.8 L628.1 546.6 L630.6 554.2 L629.4 561.7 L631.9 569.3 L635.7 573.5 L640.7 575.5 L643.2 578.6 L646.5 583.1 M414.3 223.4 L414.8 215.9 L416.8 210.1 L421.8 205.9 L426.8 202.1 L429.3 200.9 L431.8 204.7 L435.9 203.7 L439.8 198.4 L443.8 196.4 L445.5 187.0 L449.3 191.7 L452.6 198.4 L454.3 206.7 L454.8 216.7 L453.1 224.3 L451.5 230.4 L449.3 220.9 L446.8 223.4 L445.5 227.6 L446.8 234.3 L444.8 240.9 L440.1 237.6 L435.4 233.1 L432.8 226.8 L432.1 220.1 L430.1 215.4 L427.1 212.6 L424.3 213.9 L422.6 216.7 M417.8 219.2 L418.1 215.4 L420.1 213.9 L422.1 216.4 M395.2 319.2 L395.7 311.7 L396.5 308.4 L400.7 305.9 L403.2 302.6 L404.9 298.9 L412.4 301.4 L420.7 303.4 L429.1 303.1 L435.7 300.1 L439.9 295.4 L442.1 293.7 L442.9 297.6 L440.7 303.7 L437.4 307.6 L432.7 310.4 L427.7 311.4 L424.1 310.4 L419.1 308.4 L410.7 309.2 L404.9 309.7 L400.7 310.9 L398.2 314.2 L397.0 320.1 L396.7 324.6 L400.4 329.1 M467.4 288.0 L468.8 291.7 L469.4 297.6 L471.6 298.4 L473.8 295.9 L474.1 300.1 L472.1 303.4 L471.1 307.6 L472.5 309.2 L469.1 310.4 L468.3 315.1 L469.1 320.9 L470.8 325.9 L471.6 328.4 L469.1 325.9 L466.6 321.7 L464.4 316.7 L464.1 310.1 L464.9 305.1 L462.1 303.4 L462.4 298.4 L464.1 291.7 Z M413.9 159.6 L416.4 158.3 L418.3 160.9 L420.8 162.1 L423.3 163.4 L424.2 167.8 L425.8 170.9 L427.7 174.7 L430.0 172.8 L430.9 169.0 L432.1 169.7 L432.5 174.1 L433.4 179.1 L435.9 181.6 L437.1 184.1 L435.9 186.6 L433.4 187.9 L432.1 185.4 L430.0 184.1 L428.3 186.0 L426.5 185.4 L425.2 188.5 L425.8 192.3 L423.9 194.8 L422.1 194.2 L420.2 191.0 L418.7 187.3 L419.5 184.1 L422.1 181.6 L421.4 177.8 L419.5 175.3 L416.4 174.7 L413.6 175.3 L414.1 170.3 L415.1 165.3 L414.5 162.1 Z M435.5 149.9 L439.0 149.2 L443.4 148.9 L444.7 152.7 L445.9 157.7 L446.6 162.7 L447.2 167.1 L444.1 168.4 L441.5 169.7 L440.9 172.8 L442.8 177.2 L442.2 179.1 L439.7 179.7 L438.4 176.6 L437.8 171.5 L435.9 168.4 L437.1 164.6 L439.7 162.7 L440.3 159.0 L438.4 156.5 L437.1 153.3 Z M400.7 137.6 L403.8 137.0 L407.0 138.2 L408.9 140.7 L410.1 145.1 L410.1 149.5 L407.6 153.3 L405.7 151.4 L403.8 147.0 L401.9 142.0 Z M199.2 110.2 L199.2 120.0 L201.1 126.3 L202.9 132.6 L205.5 138.9 L207.0 145.1 L207.3 149.5 L205.5 153.3 L204.8 157.1 L206.7 160.9 L207.7 165.3 L207.3 169.7 L205.5 172.8 L204.8 177.8 L205.2 182.9 L204.8 188.5 L203.2 192.9 L201.9 197.9 L201.7 202.0 M235.0 147.4 L231.2 146.7 L227.5 145.8 L226.2 143.3 L226.2 138.9 L224.3 136.3 L221.2 135.7 L218.7 137.6 L217.8 142.6 L217.8 148.9 L217.4 155.2 L215.5 161.5 L213.6 167.1 L211.7 171.5 L210.7 176.6 L210.5 182.9 L211.1 188.5 L212.4 192.9 L214.9 193.5 L216.8 192.9 L217.4 196.7 L218.7 202.0" fill="none" stroke="#000" stroke-width="2.1" stroke-linejoin="round" stroke-linecap="round"/>
<path d="M154.3 145.1 L152.3 160.2" fill="none" stroke="#000" stroke-width="3.6" stroke-linecap="round"/>
<path d="M155.6 138.0 L155.2 140.5" fill="none" stroke="#000" stroke-width="3.4" stroke-linecap="round"/>
<path d="M428.3 428.0 L429.0 428.0" fill="none" stroke="#000" stroke-width="3" stroke-linecap="round"/>
<path d="M437.2 426.7 L438.2 426.3" fill="none" stroke="#000" stroke-width="3" stroke-linecap="round"/>
<path d="M128.5 214.8 L170 215.2 L215 216.2 L260 217.6 L300 218.6 L340 219 L380 219.2 L420 218.8 L450 217.6 L464 216.4 L480 216 L487 214.8 L510 214.6 L516 213.3 L560 213.3 L605 213.4 L612 214.7 L640 215.6 L664.5 217.6" fill="none" stroke="#000" stroke-width="2.2" stroke-dasharray="8.4 7.5"/>
</g>
<path d="M218.5 582.5 v-5 M218.5 49.5 v5 M307.5 582.5 v-5 M307.5 49.5 v5 M396.5 582.5 v-5 M396.5 49.5 v5 M485.5 582.5 v-5 M485.5 49.5 v5 M574.5 582.5 v-5 M574.5 49.5 v5 M128.5 517.5 h6.5 M664.5 517.5 h-6.5 M128.5 450.5 h6.5 M664.5 450.5 h-6.5 M128.5 383.5 h6.5 M664.5 383.5 h-6.5 M128.5 316.5 h6.5 M664.5 316.5 h-6.5 M128.5 249.5 h6.5 M664.5 249.5 h-6.5 M128.5 182.5 h6.5 M664.5 182.5 h-6.5 M128.5 115.5 h6.5 M664.5 115.5 h-6.5" stroke="#262626" stroke-width="1" fill="none"/>
<rect x="128.5" y="49.5" width="536" height="533" fill="none" stroke="#262626" stroke-width="1"/>
<g shape-rendering="crispEdges"><rect x="698.5" y="574.17" width="32" height="8.63" fill="#00008f"/><rect x="698.5" y="565.84" width="32" height="8.63" fill="#00009f"/><rect x="698.5" y="557.52" width="32" height="8.63" fill="#0000af"/><rect x="698.5" y="549.19" width="32" height="8.63" fill="#0000bf"/><rect x="698.5" y="540.86" width="32" height="8.63" fill="#0000cf"/><rect x="698.5" y="532.53" width="32" height="8.63" fill="#0000df"/><rect x="698.5" y="524.20" width="32" height="8.63" fill="#0000ef"/><rect x="698.5" y="515.88" width="32" height="8.63" fill="#0000ff"/><rect x="698.5" y="507.55" width="32" height="8.63" fill="#0010ff"/><rect x="698.5" y="499.22" width="32" height="8.63" fill="#0020ff"/><rect x="698.5" y="490.89" width="32" height="8.63" fill="#0030ff"/><rect x="698.5" y="482.56" width="32" height="8.63" fill="#0040ff"/><rect x="698.5" y="474.23" width="32" height="8.63" fill="#0050ff"/><rect x="698.5" y="465.91" width="32" height="8.63" fill="#0060ff"/><rect x="698.5" y="457.58" width="32" height="8.63" fill="#0070ff"/><rect x="698.5" y="449.25" width="32" height="8.63" fill="#0080ff"/><rect x="698.5" y="440.92" width="32" height="8.63" fill="#008fff"/><rect x="698.5" y="432.59" width="32" height="8.63" fill="#009fff"/><rect x="698.5" y="424.27" width="32" height="8.63" fill="#00afff"/><rect x="698.5" y="415.94" width="32" height="8.63" fill="#00bfff"/><rect x="698.5" y="407.61" width="32" height="8.63" fill="#00cfff"/><rect x="698.5" y="399.28" width="32" height="8.63" fill="#00dfff"/><rect x="698.5" y="390.95" width="32" height="8.63" fill="#00efff"/><rect x="698.5" y="382.62" width="32" height="8.63" fill="#00ffff"/><rect x="698.5" y="374.30" width="32" height="8.63" fill="#10ffef"/><rect x="698.5" y="365.97" width="32" height="8.63" fill="#20ffdf"/><rect x="698.5" y="357.64" width="32" height="8.63" fill="#30ffcf"/><rect x="698.5" y="349.31" width="32" height="8.63" fill="#40ffbf"/><rect x="698.5" y="340.98" width="32" height="8.63" fill="#50ffaf"/><rect x="698.5" y="332.66" width="32" height="8.63" fill="#60ff9f"/><rect x="698.5" y="324.33" width="32" height="8.63" fill="#70ff8f"/><rect x="698.5" y="316.00" width="32" height="8.63" fill="#80ff80"/><rect x="698.5" y="307.67" width="32" height="8.63" fill="#8fff70"/><rect x="698.5" y="299.34" width="32" height="8.63" fill="#9fff60"/><rect x="698.5" y="291.02" width="32" height="8.63" fill="#afff50"/><rect x="698.5" y="282.69" width="32" height="8.63" fill="#bfff40"/><rect x="698.5" y="274.36" width="32" height="8.63" fill="#cfff30"/><rect x="698.5" y="266.03" width="32" height="8.63" fill="#dfff20"/><rect x="698.5" y="257.70" width="32" height="8.63" fill="#efff10"/><rect x="698.5" y="249.38" width="32" height="8.63" fill="#ffff00"/><rect x="698.5" y="241.05" width="32" height="8.63" fill="#ffef00"/><rect x="698.5" y="232.72" width="32" height="8.63" fill="#ffdf00"/><rect x="698.5" y="224.39" width="32" height="8.63" fill="#ffcf00"/><rect x="698.5" y="216.06" width="32" height="8.63" fill="#ffbf00"/><rect x="698.5" y="207.73" width="32" height="8.63" fill="#ffaf00"/><rect x="698.5" y="199.41" width="32" height="8.63" fill="#ff9f00"/><rect x="698.5" y="191.08" width="32" height="8.63" fill="#ff8f00"/><rect x="698.5" y="182.75" width="32" height="8.63" fill="#ff8000"/><rect x="698.5" y="174.42" width="32" height="8.63" fill="#ff7000"/><rect x="698.5" y="166.09" width="32" height="8.63" fill="#ff6000"/><rect x="698.5" y="157.77" width="32" height="8.63" fill="#ff5000"/><rect x="698.5" y="149.44" width="32" height="8.63" fill="#ff4000"/><rect x="698.5" y="141.11" width="32" height="8.63" fill="#ff3000"/><rect x="698.5" y="132.78" width="32" height="8.63" fill="#ff2000"/><rect x="698.5" y="124.45" width="32" height="8.63" fill="#ff1000"/><rect x="698.5" y="116.12" width="32" height="8.63" fill="#ff0000"/><rect x="698.5" y="107.80" width="32" height="8.63" fill="#ef0000"/><rect x="698.5" y="99.47" width="32" height="8.63" fill="#df0000"/><rect x="698.5" y="91.14" width="32" height="8.63" fill="#cf0000"/><rect x="698.5" y="82.81" width="32" height="8.63" fill="#bf0000"/><rect x="698.5" y="74.48" width="32" height="8.63" fill="#af0000"/><rect x="698.5" y="66.16" width="32" height="8.63" fill="#9f0000"/><rect x="698.5" y="57.83" width="32" height="8.63" fill="#8f0000"/><rect x="698.5" y="49.50" width="32" height="8.63" fill="#800000"/></g>
<path d="M730.5 582.5 h-5.4 M730.5 529.2 h-5.4 M730.5 475.9 h-5.4 M730.5 422.6 h-5.4 M730.5 369.3 h-5.4 M730.5 316.0 h-5.4 M730.5 262.7 h-5.4 M730.5 209.4 h-5.4 M730.5 156.1 h-5.4 M730.5 102.8 h-5.4 M730.5 49.5 h-5.4" stroke="#262626" stroke-width="1" fill="none"/>
<rect x="698.5" y="49.5" width="32" height="533" fill="none" stroke="#262626" stroke-width="1"/>
<g font-family="Liberation Sans, Arial, Helvetica, sans-serif" font-size="19.2" fill="#262626" style="font-kerning:none"><text x="129.7" y="612.3" text-anchor="middle" letter-spacing="0.3">90</text><text x="218.8" y="612.3" text-anchor="middle" letter-spacing="0.3">100</text><text x="308.0" y="612.3" text-anchor="middle" letter-spacing="0.3">110</text><text x="397.1" y="612.3" text-anchor="middle" letter-spacing="0.3">120</text><text x="486.1" y="612.3" text-anchor="middle" letter-spacing="0.3">130</text><text x="575.2" y="612.3" text-anchor="middle" letter-spacing="0.3">140</text><text x="664.4" y="612.3" text-anchor="middle" letter-spacing="0.3">150</text><text x="120.2" y="589.8" text-anchor="end" letter-spacing="0.3">-20</text><text x="120.2" y="524.8" text-anchor="end" letter-spacing="0.3">-15</text><text x="120.2" y="457.8" text-anchor="end" letter-spacing="0.3">-10</text><text x="120.2" y="390.8" text-anchor="end" letter-spacing="0.3">-5</text><text x="120.2" y="323.8" text-anchor="end" letter-spacing="0.3">0</text><text x="120.2" y="256.8" text-anchor="end" letter-spacing="0.3">5</text><text x="120.2" y="189.8" text-anchor="end" letter-spacing="0.3">10</text><text x="120.2" y="122.8" text-anchor="end" letter-spacing="0.3">15</text><text x="120.2" y="56.8" text-anchor="end" letter-spacing="0.3">20</text><text x="739.6" y="589.8" letter-spacing="0">0</text><text x="739.6" y="536.5" letter-spacing="0">10</text><text x="739.6" y="483.2" letter-spacing="0">20</text><text x="739.6" y="429.9" letter-spacing="0">30</text><text x="739.6" y="376.6" letter-spacing="0">40</text><text x="739.6" y="323.3" letter-spacing="0">50</text><text x="739.6" y="270.0" letter-spacing="0">60</text><text x="739.6" y="216.7" letter-spacing="0">70</text><text x="739.6" y="163.4" letter-spacing="0">80</text><text x="739.6" y="110.1" letter-spacing="0">90</text><text x="739.6" y="56.0" letter-spacing="0">100</text></g>
<text x="397.6" y="39.5" text-anchor="middle" font-family="Liberation Sans, Arial, Helvetica, sans-serif" font-size="22.8" font-weight="bold" fill="#000">12-Apr-2025; 00:00 UT</text>
<text x="397.2" y="644.2" text-anchor="middle" font-family="Liberation Sans, Arial, Helvetica, sans-serif" font-size="23.1" fill="#262626">Geographic Lon. (°)</text>
<text transform="translate(76.3 316) rotate(-90)" text-anchor="middle" font-family="Liberation Sans, Arial, Helvetica, sans-serif" font-size="22.9" fill="#262626">Geographic Lat. (°)</text>
<text transform="translate(796.3 314.5) rotate(-90)" text-anchor="middle" font-family="Liberation Sans, Arial, Helvetica, sans-serif" font-size="18.8" fill="#262626">Total Electron Content (TECU)</text>
</svg>
</body></html>
